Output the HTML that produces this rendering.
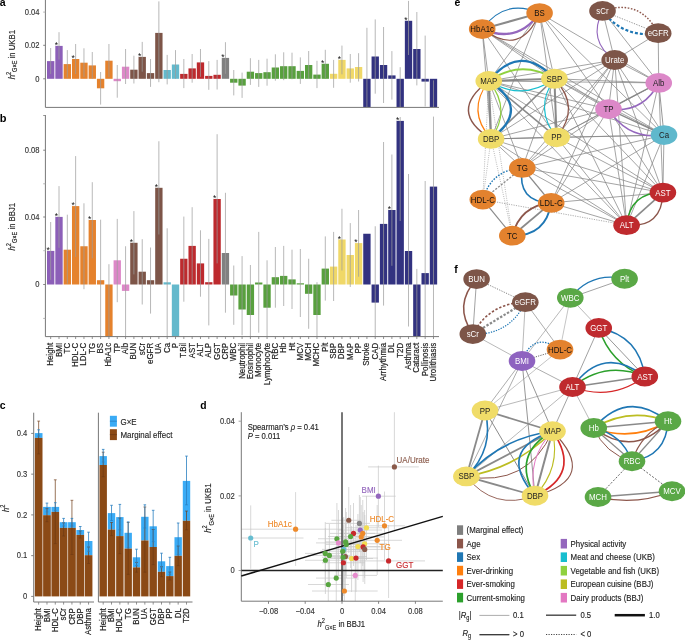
<!DOCTYPE html>
<html><head><meta charset="utf-8"><style>
html,body{margin:0;padding:0;background:#fff;}
body{width:685px;height:640px;overflow:hidden;font-family:"Liberation Sans", sans-serif;}
svg{display:block;will-change:transform;}
</style></head><body>
<svg width="685" height="640" viewBox="0 0 685 640">
<rect x="0" y="0" width="685" height="640" fill="#fff"/>
<g font-family='"Liberation Sans", sans-serif'>
<text x="-0.30" y="5.60" font-size="10.5" text-anchor="start" fill="#000" font-weight="bold" font-style="normal" >a</text>
<rect x="47.00" y="61.10" width="7.35" height="17.70" fill="#8c5fb8"/>
<rect x="55.32" y="45.90" width="7.35" height="32.90" fill="#8c5fb8"/>
<rect x="63.64" y="64.10" width="7.35" height="14.70" fill="#e5822d"/>
<rect x="71.97" y="59.00" width="7.35" height="19.80" fill="#e5822d"/>
<rect x="80.29" y="62.70" width="7.35" height="16.10" fill="#e5822d"/>
<rect x="88.61" y="65.40" width="7.35" height="13.40" fill="#e5822d"/>
<rect x="96.93" y="78.80" width="7.35" height="9.50" fill="#e5822d"/>
<rect x="105.25" y="60.70" width="7.35" height="18.10" fill="#e5822d"/>
<rect x="113.58" y="78.80" width="7.35" height="2.40" fill="#dd88c8"/>
<rect x="121.90" y="66.70" width="7.35" height="12.10" fill="#dd88c8"/>
<rect x="130.22" y="69.70" width="7.35" height="9.10" fill="#7d5548"/>
<rect x="138.54" y="56.90" width="7.35" height="21.90" fill="#7d5548"/>
<rect x="146.86" y="73.10" width="7.35" height="5.70" fill="#7d5548"/>
<rect x="155.19" y="32.90" width="7.35" height="45.90" fill="#7d5548"/>
<rect x="163.51" y="70.00" width="7.35" height="8.80" fill="#64b9cc"/>
<rect x="171.83" y="64.50" width="7.35" height="14.30" fill="#64b9cc"/>
<rect x="180.15" y="73.90" width="7.35" height="4.90" fill="#bd2a2e"/>
<rect x="188.47" y="68.40" width="7.35" height="10.40" fill="#bd2a2e"/>
<rect x="196.80" y="62.40" width="7.35" height="16.40" fill="#bd2a2e"/>
<rect x="205.12" y="75.90" width="7.35" height="2.90" fill="#bd2a2e"/>
<rect x="213.44" y="74.80" width="7.35" height="4.00" fill="#bd2a2e"/>
<rect x="221.76" y="57.90" width="7.35" height="20.90" fill="#808080"/>
<rect x="230.08" y="78.80" width="7.35" height="3.90" fill="#58a03e"/>
<rect x="238.41" y="78.80" width="7.35" height="6.80" fill="#58a03e"/>
<rect x="246.73" y="71.70" width="7.35" height="7.10" fill="#58a03e"/>
<rect x="255.05" y="73.10" width="7.35" height="5.70" fill="#58a03e"/>
<rect x="263.37" y="72.20" width="7.35" height="6.60" fill="#58a03e"/>
<rect x="271.69" y="67.50" width="7.35" height="11.30" fill="#58a03e"/>
<rect x="280.02" y="66.20" width="7.35" height="12.60" fill="#58a03e"/>
<rect x="288.34" y="66.20" width="7.35" height="12.60" fill="#58a03e"/>
<rect x="296.66" y="70.90" width="7.35" height="7.90" fill="#58a03e"/>
<rect x="304.98" y="65.00" width="7.35" height="13.80" fill="#58a03e"/>
<rect x="313.30" y="74.60" width="7.35" height="4.20" fill="#58a03e"/>
<rect x="321.63" y="63.80" width="7.35" height="15.00" fill="#58a03e"/>
<rect x="329.95" y="73.80" width="7.35" height="5.00" fill="#f0d868"/>
<rect x="338.27" y="59.90" width="7.35" height="18.90" fill="#f0d868"/>
<rect x="346.59" y="68.40" width="7.35" height="10.40" fill="#f0d868"/>
<rect x="354.91" y="67.00" width="7.35" height="11.80" fill="#f0d868"/>
<rect x="363.24" y="78.80" width="7.35" height="28.20" fill="#323280"/>
<rect x="371.56" y="56.50" width="7.35" height="22.30" fill="#323280"/>
<rect x="379.88" y="65.00" width="7.35" height="13.80" fill="#323280"/>
<rect x="388.20" y="75.40" width="7.35" height="3.40" fill="#323280"/>
<rect x="396.52" y="78.80" width="7.35" height="28.20" fill="#323280"/>
<rect x="404.85" y="20.80" width="7.35" height="58.00" fill="#323280"/>
<rect x="413.17" y="49.00" width="7.35" height="29.80" fill="#323280"/>
<rect x="421.49" y="78.80" width="7.35" height="2.80" fill="#323280"/>
<rect x="429.81" y="78.80" width="7.35" height="28.20" fill="#323280"/>
<line x1="50.67" y1="48.00" x2="50.67" y2="74.10" stroke="#9c9c9c" stroke-width="0.9" stroke-opacity="0.8"/>
<line x1="59.00" y1="32.20" x2="59.00" y2="59.60" stroke="#9c9c9c" stroke-width="0.9" stroke-opacity="0.8"/>
<line x1="67.32" y1="50.10" x2="67.32" y2="77.60" stroke="#9c9c9c" stroke-width="0.9" stroke-opacity="0.8"/>
<line x1="75.64" y1="44.00" x2="75.64" y2="74.10" stroke="#9c9c9c" stroke-width="0.9" stroke-opacity="0.8"/>
<line x1="83.96" y1="48.30" x2="83.96" y2="77.00" stroke="#9c9c9c" stroke-width="0.9" stroke-opacity="0.8"/>
<line x1="92.28" y1="52.00" x2="92.28" y2="78.80" stroke="#9c9c9c" stroke-width="0.9" stroke-opacity="0.8"/>
<line x1="100.61" y1="72.00" x2="100.61" y2="104.60" stroke="#9c9c9c" stroke-width="0.9" stroke-opacity="0.8"/>
<line x1="108.93" y1="44.00" x2="108.93" y2="77.00" stroke="#9c9c9c" stroke-width="0.9" stroke-opacity="0.8"/>
<line x1="117.25" y1="65.00" x2="117.25" y2="97.70" stroke="#9c9c9c" stroke-width="0.9" stroke-opacity="0.8"/>
<line x1="125.57" y1="49.00" x2="125.57" y2="84.00" stroke="#9c9c9c" stroke-width="0.9" stroke-opacity="0.8"/>
<line x1="133.90" y1="55.70" x2="133.90" y2="83.50" stroke="#9c9c9c" stroke-width="0.9" stroke-opacity="0.8"/>
<line x1="142.22" y1="41.90" x2="142.22" y2="71.70" stroke="#9c9c9c" stroke-width="0.9" stroke-opacity="0.8"/>
<line x1="150.54" y1="59.00" x2="150.54" y2="86.90" stroke="#9c9c9c" stroke-width="0.9" stroke-opacity="0.8"/>
<line x1="158.86" y1="1.40" x2="158.86" y2="82.20" stroke="#9c9c9c" stroke-width="0.9" stroke-opacity="0.8"/>
<line x1="167.18" y1="54.90" x2="167.18" y2="84.40" stroke="#9c9c9c" stroke-width="0.9" stroke-opacity="0.8"/>
<line x1="175.50" y1="50.10" x2="175.50" y2="78.80" stroke="#9c9c9c" stroke-width="0.9" stroke-opacity="0.8"/>
<line x1="183.83" y1="59.00" x2="183.83" y2="88.10" stroke="#9c9c9c" stroke-width="0.9" stroke-opacity="0.8"/>
<line x1="192.15" y1="54.00" x2="192.15" y2="82.70" stroke="#9c9c9c" stroke-width="0.9" stroke-opacity="0.8"/>
<line x1="200.47" y1="49.00" x2="200.47" y2="76.80" stroke="#9c9c9c" stroke-width="0.9" stroke-opacity="0.8"/>
<line x1="208.79" y1="61.10" x2="208.79" y2="89.80" stroke="#9c9c9c" stroke-width="0.9" stroke-opacity="0.8"/>
<line x1="217.12" y1="59.90" x2="217.12" y2="89.50" stroke="#9c9c9c" stroke-width="0.9" stroke-opacity="0.8"/>
<line x1="225.44" y1="42.20" x2="225.44" y2="73.80" stroke="#9c9c9c" stroke-width="0.9" stroke-opacity="0.8"/>
<line x1="233.76" y1="70.00" x2="233.76" y2="95.40" stroke="#9c9c9c" stroke-width="0.9" stroke-opacity="0.8"/>
<line x1="242.08" y1="72.60" x2="242.08" y2="97.90" stroke="#9c9c9c" stroke-width="0.9" stroke-opacity="0.8"/>
<line x1="250.40" y1="58.20" x2="250.40" y2="84.90" stroke="#9c9c9c" stroke-width="0.9" stroke-opacity="0.8"/>
<line x1="258.72" y1="59.90" x2="258.72" y2="86.90" stroke="#9c9c9c" stroke-width="0.9" stroke-opacity="0.8"/>
<line x1="267.05" y1="58.70" x2="267.05" y2="85.70" stroke="#9c9c9c" stroke-width="0.9" stroke-opacity="0.8"/>
<line x1="275.37" y1="54.30" x2="275.37" y2="80.70" stroke="#9c9c9c" stroke-width="0.9" stroke-opacity="0.8"/>
<line x1="283.69" y1="52.30" x2="283.69" y2="80.20" stroke="#9c9c9c" stroke-width="0.9" stroke-opacity="0.8"/>
<line x1="292.01" y1="52.70" x2="292.01" y2="79.30" stroke="#9c9c9c" stroke-width="0.9" stroke-opacity="0.8"/>
<line x1="300.33" y1="57.40" x2="300.33" y2="83.90" stroke="#9c9c9c" stroke-width="0.9" stroke-opacity="0.8"/>
<line x1="308.66" y1="51.00" x2="308.66" y2="79.00" stroke="#9c9c9c" stroke-width="0.9" stroke-opacity="0.8"/>
<line x1="316.98" y1="60.80" x2="316.98" y2="88.10" stroke="#9c9c9c" stroke-width="0.9" stroke-opacity="0.8"/>
<line x1="325.30" y1="49.80" x2="325.30" y2="78.00" stroke="#9c9c9c" stroke-width="0.9" stroke-opacity="0.8"/>
<line x1="333.62" y1="59.90" x2="333.62" y2="87.80" stroke="#9c9c9c" stroke-width="0.9" stroke-opacity="0.8"/>
<line x1="341.94" y1="45.60" x2="341.94" y2="74.30" stroke="#9c9c9c" stroke-width="0.9" stroke-opacity="0.8"/>
<line x1="350.27" y1="54.00" x2="350.27" y2="82.70" stroke="#9c9c9c" stroke-width="0.9" stroke-opacity="0.8"/>
<line x1="358.59" y1="53.20" x2="358.59" y2="81.50" stroke="#9c9c9c" stroke-width="0.9" stroke-opacity="0.8"/>
<line x1="366.91" y1="27.80" x2="366.91" y2="107.00" stroke="#9c9c9c" stroke-width="0.9" stroke-opacity="0.8"/>
<line x1="375.23" y1="19.40" x2="375.23" y2="93.70" stroke="#9c9c9c" stroke-width="0.9" stroke-opacity="0.8"/>
<line x1="383.56" y1="27.00" x2="383.56" y2="103.00" stroke="#9c9c9c" stroke-width="0.9" stroke-opacity="0.8"/>
<line x1="391.88" y1="51.10" x2="391.88" y2="99.60" stroke="#9c9c9c" stroke-width="0.9" stroke-opacity="0.8"/>
<line x1="400.20" y1="67.20" x2="400.20" y2="107.00" stroke="#9c9c9c" stroke-width="0.9" stroke-opacity="0.8"/>
<line x1="408.52" y1="0.90" x2="408.52" y2="55.00" stroke="#9c9c9c" stroke-width="0.9" stroke-opacity="0.8"/>
<line x1="416.84" y1="12.00" x2="416.84" y2="85.40" stroke="#9c9c9c" stroke-width="0.9" stroke-opacity="0.8"/>
<line x1="425.16" y1="35.60" x2="425.16" y2="106.50" stroke="#9c9c9c" stroke-width="0.9" stroke-opacity="0.8"/>
<line x1="433.49" y1="80.40" x2="433.49" y2="107.00" stroke="#9c9c9c" stroke-width="0.9" stroke-opacity="0.8"/>
<text x="56.42" y="48.20" font-size="8.5" text-anchor="middle" fill="#111">*</text>
<text x="73.07" y="61.30" font-size="8.5" text-anchor="middle" fill="#111">*</text>
<text x="139.64" y="59.20" font-size="8.5" text-anchor="middle" fill="#111">*</text>
<text x="222.86" y="60.20" font-size="8.5" text-anchor="middle" fill="#111">*</text>
<text x="322.73" y="66.10" font-size="8.5" text-anchor="middle" fill="#111">*</text>
<text x="339.37" y="62.20" font-size="8.5" text-anchor="middle" fill="#111">*</text>
<text x="405.95" y="23.10" font-size="8.5" text-anchor="middle" fill="#111">*</text>
<line x1="45.40" y1="0.00" x2="45.40" y2="107.40" stroke="#777" stroke-width="1" />
<line x1="45.40" y1="107.40" x2="439.00" y2="107.40" stroke="#777" stroke-width="1" />
<line x1="43.20" y1="12.10" x2="45.40" y2="12.10" stroke="#aaa" stroke-width="0.9" />
<text transform="translate(39.50,14.80) scale(0.8696,1)" font-size="8.74" text-anchor="end" fill="#333" stroke="#333" stroke-width="0.14" font-weight="normal">0.04</text>
<line x1="43.20" y1="45.30" x2="45.40" y2="45.30" stroke="#777" stroke-width="0.9" />
<text transform="translate(39.50,48.00) scale(0.8696,1)" font-size="8.74" text-anchor="end" fill="#333" stroke="#333" stroke-width="0.14" font-weight="normal">0.02</text>
<line x1="43.20" y1="78.80" x2="45.40" y2="78.80" stroke="#777" stroke-width="0.9" />
<text transform="translate(39.50,81.50) scale(0.8696,1)" font-size="8.74" text-anchor="end" fill="#333" stroke="#333" stroke-width="0.14" font-weight="normal">0</text>
<text transform="translate(14.50,79.30) rotate(-90) scale(0.8696,1)" font-size="8.91" text-anchor="start" fill="#222" stroke="#222" stroke-width="0.14" font-weight="normal"><tspan font-style="italic">h</tspan><tspan font-size="6.44" dy="-3.91">2</tspan><tspan font-size="6.44" dy="6.79">G×E</tspan><tspan dy="-2.88"> in UKB1</tspan></text>
<text x="-0.20" y="121.80" font-size="11" text-anchor="start" fill="#000" font-weight="bold" font-style="normal" >b</text>
<rect x="47.00" y="250.90" width="7.35" height="33.60" fill="#8c5fb8"/>
<rect x="55.32" y="216.90" width="7.35" height="67.60" fill="#8c5fb8"/>
<rect x="63.64" y="249.70" width="7.35" height="34.80" fill="#e5822d"/>
<rect x="71.97" y="206.10" width="7.35" height="78.40" fill="#e5822d"/>
<rect x="80.29" y="246.25" width="7.35" height="38.25" fill="#e5822d"/>
<rect x="88.61" y="220.00" width="7.35" height="64.50" fill="#e5822d"/>
<rect x="96.93" y="280.20" width="7.35" height="4.30" fill="#e5822d"/>
<rect x="105.25" y="284.50" width="7.35" height="52.00" fill="#e5822d"/>
<rect x="113.58" y="260.30" width="7.35" height="24.20" fill="#dd88c8"/>
<rect x="121.90" y="284.50" width="7.35" height="6.40" fill="#dd88c8"/>
<rect x="130.22" y="242.80" width="7.35" height="41.70" fill="#7d5548"/>
<rect x="138.54" y="271.70" width="7.35" height="12.80" fill="#7d5548"/>
<rect x="146.86" y="280.20" width="7.35" height="4.30" fill="#7d5548"/>
<rect x="155.19" y="187.80" width="7.35" height="96.70" fill="#7d5548"/>
<rect x="163.51" y="282.30" width="7.35" height="2.20" fill="#64b9cc"/>
<rect x="171.83" y="284.50" width="7.35" height="52.00" fill="#64b9cc"/>
<rect x="180.15" y="258.75" width="7.35" height="25.75" fill="#bd2a2e"/>
<rect x="188.47" y="245.90" width="7.35" height="38.60" fill="#bd2a2e"/>
<rect x="196.80" y="263.40" width="7.35" height="21.10" fill="#bd2a2e"/>
<rect x="205.12" y="282.20" width="7.35" height="2.30" fill="#bd2a2e"/>
<rect x="213.44" y="199.00" width="7.35" height="85.50" fill="#bd2a2e"/>
<rect x="221.76" y="253.00" width="7.35" height="31.50" fill="#808080"/>
<rect x="230.08" y="284.50" width="7.35" height="11.00" fill="#58a03e"/>
<rect x="238.41" y="284.50" width="7.35" height="25.00" fill="#58a03e"/>
<rect x="246.73" y="284.50" width="7.35" height="30.50" fill="#58a03e"/>
<rect x="255.05" y="282.50" width="7.35" height="2.00" fill="#58a03e"/>
<rect x="263.37" y="284.50" width="7.35" height="23.20" fill="#58a03e"/>
<rect x="271.69" y="277.20" width="7.35" height="7.30" fill="#58a03e"/>
<rect x="280.02" y="275.90" width="7.35" height="8.60" fill="#58a03e"/>
<rect x="288.34" y="279.40" width="7.35" height="5.10" fill="#58a03e"/>
<rect x="296.66" y="283.30" width="7.35" height="1.20" fill="#58a03e"/>
<rect x="304.98" y="284.50" width="7.35" height="9.30" fill="#58a03e"/>
<rect x="313.30" y="284.50" width="7.35" height="30.50" fill="#58a03e"/>
<rect x="321.63" y="268.60" width="7.35" height="15.90" fill="#58a03e"/>
<rect x="329.95" y="266.60" width="7.35" height="17.90" fill="#f0d868"/>
<rect x="338.27" y="239.50" width="7.35" height="45.00" fill="#f0d868"/>
<rect x="346.59" y="255.00" width="7.35" height="29.50" fill="#f0d868"/>
<rect x="354.91" y="243.10" width="7.35" height="41.40" fill="#f0d868"/>
<rect x="363.24" y="233.75" width="7.35" height="50.75" fill="#323280"/>
<rect x="371.56" y="284.50" width="7.35" height="18.10" fill="#323280"/>
<rect x="379.88" y="223.90" width="7.35" height="60.60" fill="#323280"/>
<rect x="388.20" y="210.00" width="7.35" height="74.50" fill="#323280"/>
<rect x="396.52" y="120.90" width="7.35" height="163.60" fill="#323280"/>
<rect x="404.85" y="251.00" width="7.35" height="33.50" fill="#323280"/>
<rect x="413.17" y="284.50" width="7.35" height="52.00" fill="#323280"/>
<rect x="421.49" y="273.10" width="7.35" height="11.40" fill="#323280"/>
<rect x="429.81" y="186.60" width="7.35" height="97.90" fill="#323280"/>
<line x1="50.67" y1="222.00" x2="50.67" y2="279.80" stroke="#9c9c9c" stroke-width="0.9" stroke-opacity="0.8"/>
<line x1="59.00" y1="186.10" x2="59.00" y2="247.80" stroke="#9c9c9c" stroke-width="0.9" stroke-opacity="0.8"/>
<line x1="67.32" y1="214.70" x2="67.32" y2="283.75" stroke="#9c9c9c" stroke-width="0.9" stroke-opacity="0.8"/>
<line x1="75.64" y1="156.10" x2="75.64" y2="256.90" stroke="#9c9c9c" stroke-width="0.9" stroke-opacity="0.8"/>
<line x1="83.96" y1="203.30" x2="83.96" y2="289.20" stroke="#9c9c9c" stroke-width="0.9" stroke-opacity="0.8"/>
<line x1="92.28" y1="182.20" x2="92.28" y2="258.40" stroke="#9c9c9c" stroke-width="0.9" stroke-opacity="0.8"/>
<line x1="100.61" y1="219.70" x2="100.61" y2="336.50" stroke="#9c9c9c" stroke-width="0.9" stroke-opacity="0.8"/>
<line x1="108.93" y1="264.20" x2="108.93" y2="336.50" stroke="#9c9c9c" stroke-width="0.9" stroke-opacity="0.8"/>
<line x1="117.25" y1="218.90" x2="117.25" y2="302.20" stroke="#9c9c9c" stroke-width="0.9" stroke-opacity="0.8"/>
<line x1="125.57" y1="246.25" x2="125.57" y2="336.50" stroke="#9c9c9c" stroke-width="0.9" stroke-opacity="0.8"/>
<line x1="133.90" y1="211.10" x2="133.90" y2="274.40" stroke="#9c9c9c" stroke-width="0.9" stroke-opacity="0.8"/>
<line x1="142.22" y1="239.20" x2="142.22" y2="304.50" stroke="#9c9c9c" stroke-width="0.9" stroke-opacity="0.8"/>
<line x1="150.54" y1="247.50" x2="150.54" y2="313.60" stroke="#9c9c9c" stroke-width="0.9" stroke-opacity="0.8"/>
<line x1="158.86" y1="141.25" x2="158.86" y2="234.50" stroke="#9c9c9c" stroke-width="0.9" stroke-opacity="0.8"/>
<line x1="167.18" y1="228.30" x2="167.18" y2="336.50" stroke="#9c9c9c" stroke-width="0.9" stroke-opacity="0.8"/>
<line x1="183.83" y1="216.60" x2="183.83" y2="301.70" stroke="#9c9c9c" stroke-width="0.9" stroke-opacity="0.8"/>
<line x1="192.15" y1="207.20" x2="192.15" y2="284.00" stroke="#9c9c9c" stroke-width="0.9" stroke-opacity="0.8"/>
<line x1="200.47" y1="230.30" x2="200.47" y2="296.70" stroke="#9c9c9c" stroke-width="0.9" stroke-opacity="0.8"/>
<line x1="208.79" y1="238.90" x2="208.79" y2="325.40" stroke="#9c9c9c" stroke-width="0.9" stroke-opacity="0.8"/>
<line x1="217.12" y1="134.20" x2="217.12" y2="263.40" stroke="#9c9c9c" stroke-width="0.9" stroke-opacity="0.8"/>
<line x1="225.44" y1="192.80" x2="225.44" y2="312.70" stroke="#9c9c9c" stroke-width="0.9" stroke-opacity="0.8"/>
<line x1="233.76" y1="265.50" x2="233.76" y2="324.80" stroke="#9c9c9c" stroke-width="0.9" stroke-opacity="0.8"/>
<line x1="242.08" y1="256.10" x2="242.08" y2="335.30" stroke="#9c9c9c" stroke-width="0.9" stroke-opacity="0.8"/>
<line x1="250.40" y1="265.00" x2="250.40" y2="336.50" stroke="#9c9c9c" stroke-width="0.9" stroke-opacity="0.8"/>
<line x1="258.72" y1="231.90" x2="258.72" y2="332.70" stroke="#9c9c9c" stroke-width="0.9" stroke-opacity="0.8"/>
<line x1="267.05" y1="260.30" x2="267.05" y2="336.50" stroke="#9c9c9c" stroke-width="0.9" stroke-opacity="0.8"/>
<line x1="275.37" y1="247.00" x2="275.37" y2="307.70" stroke="#9c9c9c" stroke-width="0.9" stroke-opacity="0.8"/>
<line x1="283.69" y1="245.90" x2="283.69" y2="306.00" stroke="#9c9c9c" stroke-width="0.9" stroke-opacity="0.8"/>
<line x1="292.01" y1="249.70" x2="292.01" y2="309.00" stroke="#9c9c9c" stroke-width="0.9" stroke-opacity="0.8"/>
<line x1="300.33" y1="249.00" x2="300.33" y2="317.00" stroke="#9c9c9c" stroke-width="0.9" stroke-opacity="0.8"/>
<line x1="308.66" y1="258.75" x2="308.66" y2="328.80" stroke="#9c9c9c" stroke-width="0.9" stroke-opacity="0.8"/>
<line x1="316.98" y1="282.20" x2="316.98" y2="336.50" stroke="#9c9c9c" stroke-width="0.9" stroke-opacity="0.8"/>
<line x1="325.30" y1="236.40" x2="325.30" y2="300.60" stroke="#9c9c9c" stroke-width="0.9" stroke-opacity="0.8"/>
<line x1="333.62" y1="231.90" x2="333.62" y2="301.00" stroke="#9c9c9c" stroke-width="0.9" stroke-opacity="0.8"/>
<line x1="341.94" y1="208.75" x2="341.94" y2="270.50" stroke="#9c9c9c" stroke-width="0.9" stroke-opacity="0.8"/>
<line x1="350.27" y1="223.10" x2="350.27" y2="287.00" stroke="#9c9c9c" stroke-width="0.9" stroke-opacity="0.8"/>
<line x1="358.59" y1="210.00" x2="358.59" y2="276.70" stroke="#9c9c9c" stroke-width="0.9" stroke-opacity="0.8"/>
<line x1="375.23" y1="226.25" x2="375.23" y2="336.50" stroke="#9c9c9c" stroke-width="0.9" stroke-opacity="0.8"/>
<line x1="383.56" y1="142.00" x2="383.56" y2="305.60" stroke="#9c9c9c" stroke-width="0.9" stroke-opacity="0.8"/>
<line x1="391.88" y1="154.50" x2="391.88" y2="265.80" stroke="#9c9c9c" stroke-width="0.9" stroke-opacity="0.8"/>
<line x1="400.20" y1="117.00" x2="400.20" y2="221.00" stroke="#9c9c9c" stroke-width="0.9" stroke-opacity="0.8"/>
<line x1="408.52" y1="174.00" x2="408.52" y2="326.50" stroke="#9c9c9c" stroke-width="0.9" stroke-opacity="0.8"/>
<line x1="416.84" y1="268.90" x2="416.84" y2="336.50" stroke="#9c9c9c" stroke-width="0.9" stroke-opacity="0.8"/>
<line x1="425.16" y1="181.00" x2="425.16" y2="336.50" stroke="#9c9c9c" stroke-width="0.9" stroke-opacity="0.8"/>
<line x1="433.49" y1="116.60" x2="433.49" y2="336.50" stroke="#9c9c9c" stroke-width="0.9" stroke-opacity="0.8"/>
<text x="48.10" y="253.20" font-size="8.5" text-anchor="middle" fill="#111">*</text>
<text x="56.42" y="219.20" font-size="8.5" text-anchor="middle" fill="#111">*</text>
<text x="73.07" y="208.40" font-size="8.5" text-anchor="middle" fill="#111">*</text>
<text x="89.71" y="222.30" font-size="8.5" text-anchor="middle" fill="#111">*</text>
<text x="131.32" y="245.10" font-size="8.5" text-anchor="middle" fill="#111">*</text>
<text x="156.29" y="190.10" font-size="8.5" text-anchor="middle" fill="#111">*</text>
<text x="214.54" y="201.30" font-size="8.5" text-anchor="middle" fill="#111">*</text>
<text x="339.37" y="241.80" font-size="8.5" text-anchor="middle" fill="#111">*</text>
<text x="356.01" y="245.40" font-size="8.5" text-anchor="middle" fill="#111">*</text>
<text x="389.30" y="212.30" font-size="8.5" text-anchor="middle" fill="#111">*</text>
<text x="397.62" y="123.20" font-size="8.5" text-anchor="middle" fill="#111">*</text>
<line x1="45.40" y1="115.00" x2="45.40" y2="336.60" stroke="#777" stroke-width="1" />
<line x1="45.40" y1="336.60" x2="439.00" y2="336.60" stroke="#777" stroke-width="1" />
<line x1="43.20" y1="115.50" x2="45.40" y2="115.50" stroke="#888" stroke-width="0.9" />
<line x1="43.20" y1="150.20" x2="45.40" y2="150.20" stroke="#777" stroke-width="0.9" />
<text transform="translate(39.50,152.90) scale(0.8696,1)" font-size="8.74" text-anchor="end" fill="#333" stroke="#333" stroke-width="0.14" font-weight="normal">0.08</text>
<line x1="43.20" y1="183.80" x2="45.40" y2="183.80" stroke="#aaa" stroke-width="0.9" />
<line x1="43.20" y1="217.00" x2="45.40" y2="217.00" stroke="#777" stroke-width="0.9" />
<text transform="translate(39.50,219.70) scale(0.8696,1)" font-size="8.74" text-anchor="end" fill="#333" stroke="#333" stroke-width="0.14" font-weight="normal">0.04</text>
<line x1="43.20" y1="250.70" x2="45.40" y2="250.70" stroke="#bbb" stroke-width="0.9" />
<line x1="43.20" y1="284.50" x2="45.40" y2="284.50" stroke="#777" stroke-width="0.9" />
<text transform="translate(39.50,287.20) scale(0.8696,1)" font-size="8.74" text-anchor="end" fill="#333" stroke="#333" stroke-width="0.14" font-weight="normal">0</text>
<line x1="43.20" y1="318.40" x2="45.40" y2="318.40" stroke="#aaa" stroke-width="0.9" />
<line x1="50.67" y1="336.60" x2="50.67" y2="339.00" stroke="#777" stroke-width="0.8" />
<text transform="translate(53.17,342.90) rotate(-90) scale(0.8696,1)" font-size="9.08" text-anchor="end" fill="#222" stroke="#222" stroke-width="0.2" font-weight="normal">Height</text>
<line x1="59.00" y1="336.60" x2="59.00" y2="339.00" stroke="#777" stroke-width="0.8" />
<text transform="translate(61.50,342.90) rotate(-90) scale(0.8696,1)" font-size="9.08" text-anchor="end" fill="#222" stroke="#222" stroke-width="0.2" font-weight="normal">BMI</text>
<line x1="67.32" y1="336.60" x2="67.32" y2="339.00" stroke="#777" stroke-width="0.8" />
<text transform="translate(69.82,342.90) rotate(-90) scale(0.8696,1)" font-size="9.08" text-anchor="end" fill="#222" stroke="#222" stroke-width="0.2" font-weight="normal">TC</text>
<line x1="75.64" y1="336.60" x2="75.64" y2="339.00" stroke="#777" stroke-width="0.8" />
<text transform="translate(78.14,342.90) rotate(-90) scale(0.8696,1)" font-size="9.08" text-anchor="end" fill="#222" stroke="#222" stroke-width="0.2" font-weight="normal">HDL-C</text>
<line x1="83.96" y1="336.60" x2="83.96" y2="339.00" stroke="#777" stroke-width="0.8" />
<text transform="translate(86.46,342.90) rotate(-90) scale(0.8696,1)" font-size="9.08" text-anchor="end" fill="#222" stroke="#222" stroke-width="0.2" font-weight="normal">LDL-C</text>
<line x1="92.28" y1="336.60" x2="92.28" y2="339.00" stroke="#777" stroke-width="0.8" />
<text transform="translate(94.78,342.90) rotate(-90) scale(0.8696,1)" font-size="9.08" text-anchor="end" fill="#222" stroke="#222" stroke-width="0.2" font-weight="normal">TG</text>
<line x1="100.61" y1="336.60" x2="100.61" y2="339.00" stroke="#777" stroke-width="0.8" />
<text transform="translate(103.11,342.90) rotate(-90) scale(0.8696,1)" font-size="9.08" text-anchor="end" fill="#222" stroke="#222" stroke-width="0.2" font-weight="normal">BS</text>
<line x1="108.93" y1="336.60" x2="108.93" y2="339.00" stroke="#777" stroke-width="0.8" />
<text transform="translate(111.43,342.90) rotate(-90) scale(0.8696,1)" font-size="9.08" text-anchor="end" fill="#222" stroke="#222" stroke-width="0.2" font-weight="normal">HbA1c</text>
<line x1="117.25" y1="336.60" x2="117.25" y2="339.00" stroke="#777" stroke-width="0.8" />
<text transform="translate(119.75,342.90) rotate(-90) scale(0.8696,1)" font-size="9.08" text-anchor="end" fill="#222" stroke="#222" stroke-width="0.2" font-weight="normal">TP</text>
<line x1="125.57" y1="336.60" x2="125.57" y2="339.00" stroke="#777" stroke-width="0.8" />
<text transform="translate(128.07,342.90) rotate(-90) scale(0.8696,1)" font-size="9.08" text-anchor="end" fill="#222" stroke="#222" stroke-width="0.2" font-weight="normal">Alb</text>
<line x1="133.90" y1="336.60" x2="133.90" y2="339.00" stroke="#777" stroke-width="0.8" />
<text transform="translate(136.40,342.90) rotate(-90) scale(0.8696,1)" font-size="9.08" text-anchor="end" fill="#222" stroke="#222" stroke-width="0.2" font-weight="normal">BUN</text>
<line x1="142.22" y1="336.60" x2="142.22" y2="339.00" stroke="#777" stroke-width="0.8" />
<text transform="translate(144.72,342.90) rotate(-90) scale(0.8696,1)" font-size="9.08" text-anchor="end" fill="#222" stroke="#222" stroke-width="0.2" font-weight="normal">sCr</text>
<line x1="150.54" y1="336.60" x2="150.54" y2="339.00" stroke="#777" stroke-width="0.8" />
<text transform="translate(153.04,342.90) rotate(-90) scale(0.8696,1)" font-size="9.08" text-anchor="end" fill="#222" stroke="#222" stroke-width="0.2" font-weight="normal">eGFR</text>
<line x1="158.86" y1="336.60" x2="158.86" y2="339.00" stroke="#777" stroke-width="0.8" />
<text transform="translate(161.36,342.90) rotate(-90) scale(0.8696,1)" font-size="9.08" text-anchor="end" fill="#222" stroke="#222" stroke-width="0.2" font-weight="normal">UA</text>
<line x1="167.18" y1="336.60" x2="167.18" y2="339.00" stroke="#777" stroke-width="0.8" />
<text transform="translate(169.68,342.90) rotate(-90) scale(0.8696,1)" font-size="9.08" text-anchor="end" fill="#222" stroke="#222" stroke-width="0.2" font-weight="normal">Ca</text>
<line x1="175.50" y1="336.60" x2="175.50" y2="339.00" stroke="#777" stroke-width="0.8" />
<text transform="translate(178.00,342.90) rotate(-90) scale(0.8696,1)" font-size="9.08" text-anchor="end" fill="#222" stroke="#222" stroke-width="0.2" font-weight="normal">P</text>
<line x1="183.83" y1="336.60" x2="183.83" y2="339.00" stroke="#777" stroke-width="0.8" />
<text transform="translate(186.33,342.90) rotate(-90) scale(0.8696,1)" font-size="9.08" text-anchor="end" fill="#222" stroke="#222" stroke-width="0.2" font-weight="normal">T.Bil</text>
<line x1="192.15" y1="336.60" x2="192.15" y2="339.00" stroke="#777" stroke-width="0.8" />
<text transform="translate(194.65,342.90) rotate(-90) scale(0.8696,1)" font-size="9.08" text-anchor="end" fill="#222" stroke="#222" stroke-width="0.2" font-weight="normal">AST</text>
<line x1="200.47" y1="336.60" x2="200.47" y2="339.00" stroke="#777" stroke-width="0.8" />
<text transform="translate(202.97,342.90) rotate(-90) scale(0.8696,1)" font-size="9.08" text-anchor="end" fill="#222" stroke="#222" stroke-width="0.2" font-weight="normal">ALT</text>
<line x1="208.79" y1="336.60" x2="208.79" y2="339.00" stroke="#777" stroke-width="0.8" />
<text transform="translate(211.29,342.90) rotate(-90) scale(0.8696,1)" font-size="9.08" text-anchor="end" fill="#222" stroke="#222" stroke-width="0.2" font-weight="normal">ALP</text>
<line x1="217.12" y1="336.60" x2="217.12" y2="339.00" stroke="#777" stroke-width="0.8" />
<text transform="translate(219.62,342.90) rotate(-90) scale(0.8696,1)" font-size="9.08" text-anchor="end" fill="#222" stroke="#222" stroke-width="0.2" font-weight="normal">GGT</text>
<line x1="225.44" y1="336.60" x2="225.44" y2="339.00" stroke="#777" stroke-width="0.8" />
<text transform="translate(227.94,342.90) rotate(-90) scale(0.8696,1)" font-size="9.08" text-anchor="end" fill="#222" stroke="#222" stroke-width="0.2" font-weight="normal">CRP</text>
<line x1="233.76" y1="336.60" x2="233.76" y2="339.00" stroke="#777" stroke-width="0.8" />
<text transform="translate(236.26,342.90) rotate(-90) scale(0.8696,1)" font-size="9.08" text-anchor="end" fill="#222" stroke="#222" stroke-width="0.2" font-weight="normal">WBC</text>
<line x1="242.08" y1="336.60" x2="242.08" y2="339.00" stroke="#777" stroke-width="0.8" />
<text transform="translate(244.58,342.90) rotate(-90) scale(0.8696,1)" font-size="9.08" text-anchor="end" fill="#222" stroke="#222" stroke-width="0.2" font-weight="normal">Neutrophil</text>
<line x1="250.40" y1="336.60" x2="250.40" y2="339.00" stroke="#777" stroke-width="0.8" />
<text transform="translate(252.90,342.90) rotate(-90) scale(0.8696,1)" font-size="9.08" text-anchor="end" fill="#222" stroke="#222" stroke-width="0.2" font-weight="normal">Eosinophil</text>
<line x1="258.72" y1="336.60" x2="258.72" y2="339.00" stroke="#777" stroke-width="0.8" />
<text transform="translate(261.22,342.90) rotate(-90) scale(0.8696,1)" font-size="9.08" text-anchor="end" fill="#222" stroke="#222" stroke-width="0.2" font-weight="normal">Monocyte</text>
<line x1="267.05" y1="336.60" x2="267.05" y2="339.00" stroke="#777" stroke-width="0.8" />
<text transform="translate(269.55,342.90) rotate(-90) scale(0.8696,1)" font-size="9.08" text-anchor="end" fill="#222" stroke="#222" stroke-width="0.2" font-weight="normal">Lymphocyte</text>
<line x1="275.37" y1="336.60" x2="275.37" y2="339.00" stroke="#777" stroke-width="0.8" />
<text transform="translate(277.87,342.90) rotate(-90) scale(0.8696,1)" font-size="9.08" text-anchor="end" fill="#222" stroke="#222" stroke-width="0.2" font-weight="normal">RBC</text>
<line x1="283.69" y1="336.60" x2="283.69" y2="339.00" stroke="#777" stroke-width="0.8" />
<text transform="translate(286.19,342.90) rotate(-90) scale(0.8696,1)" font-size="9.08" text-anchor="end" fill="#222" stroke="#222" stroke-width="0.2" font-weight="normal">Hb</text>
<line x1="292.01" y1="336.60" x2="292.01" y2="339.00" stroke="#777" stroke-width="0.8" />
<text transform="translate(294.51,342.90) rotate(-90) scale(0.8696,1)" font-size="9.08" text-anchor="end" fill="#222" stroke="#222" stroke-width="0.2" font-weight="normal">Ht</text>
<line x1="300.33" y1="336.60" x2="300.33" y2="339.00" stroke="#777" stroke-width="0.8" />
<text transform="translate(302.83,342.90) rotate(-90) scale(0.8696,1)" font-size="9.08" text-anchor="end" fill="#222" stroke="#222" stroke-width="0.2" font-weight="normal">MCV</text>
<line x1="308.66" y1="336.60" x2="308.66" y2="339.00" stroke="#777" stroke-width="0.8" />
<text transform="translate(311.16,342.90) rotate(-90) scale(0.8696,1)" font-size="9.08" text-anchor="end" fill="#222" stroke="#222" stroke-width="0.2" font-weight="normal">MCH</text>
<line x1="316.98" y1="336.60" x2="316.98" y2="339.00" stroke="#777" stroke-width="0.8" />
<text transform="translate(319.48,342.90) rotate(-90) scale(0.8696,1)" font-size="9.08" text-anchor="end" fill="#222" stroke="#222" stroke-width="0.2" font-weight="normal">MCHC</text>
<line x1="325.30" y1="336.60" x2="325.30" y2="339.00" stroke="#777" stroke-width="0.8" />
<text transform="translate(327.80,342.90) rotate(-90) scale(0.8696,1)" font-size="9.08" text-anchor="end" fill="#222" stroke="#222" stroke-width="0.2" font-weight="normal">Plt</text>
<line x1="333.62" y1="336.60" x2="333.62" y2="339.00" stroke="#777" stroke-width="0.8" />
<text transform="translate(336.12,342.90) rotate(-90) scale(0.8696,1)" font-size="9.08" text-anchor="end" fill="#222" stroke="#222" stroke-width="0.2" font-weight="normal">SBP</text>
<line x1="341.94" y1="336.60" x2="341.94" y2="339.00" stroke="#777" stroke-width="0.8" />
<text transform="translate(344.44,342.90) rotate(-90) scale(0.8696,1)" font-size="9.08" text-anchor="end" fill="#222" stroke="#222" stroke-width="0.2" font-weight="normal">DBP</text>
<line x1="350.27" y1="336.60" x2="350.27" y2="339.00" stroke="#777" stroke-width="0.8" />
<text transform="translate(352.77,342.90) rotate(-90) scale(0.8696,1)" font-size="9.08" text-anchor="end" fill="#222" stroke="#222" stroke-width="0.2" font-weight="normal">MAP</text>
<line x1="358.59" y1="336.60" x2="358.59" y2="339.00" stroke="#777" stroke-width="0.8" />
<text transform="translate(361.09,342.90) rotate(-90) scale(0.8696,1)" font-size="9.08" text-anchor="end" fill="#222" stroke="#222" stroke-width="0.2" font-weight="normal">PP</text>
<line x1="366.91" y1="336.60" x2="366.91" y2="339.00" stroke="#777" stroke-width="0.8" />
<text transform="translate(369.41,342.90) rotate(-90) scale(0.8696,1)" font-size="9.08" text-anchor="end" fill="#222" stroke="#222" stroke-width="0.2" font-weight="normal">Stroke</text>
<line x1="375.23" y1="336.60" x2="375.23" y2="339.00" stroke="#777" stroke-width="0.8" />
<text transform="translate(377.73,342.90) rotate(-90) scale(0.8696,1)" font-size="9.08" text-anchor="end" fill="#222" stroke="#222" stroke-width="0.2" font-weight="normal">CAD</text>
<line x1="383.56" y1="336.60" x2="383.56" y2="339.00" stroke="#777" stroke-width="0.8" />
<text transform="translate(386.06,342.90) rotate(-90) scale(0.8696,1)" font-size="9.08" text-anchor="end" fill="#222" stroke="#222" stroke-width="0.2" font-weight="normal">Arrhythmia</text>
<line x1="391.88" y1="336.60" x2="391.88" y2="339.00" stroke="#777" stroke-width="0.8" />
<text transform="translate(394.38,342.90) rotate(-90) scale(0.8696,1)" font-size="9.08" text-anchor="end" fill="#222" stroke="#222" stroke-width="0.2" font-weight="normal">DL</text>
<line x1="400.20" y1="336.60" x2="400.20" y2="339.00" stroke="#777" stroke-width="0.8" />
<text transform="translate(402.70,342.90) rotate(-90) scale(0.8696,1)" font-size="9.08" text-anchor="end" fill="#222" stroke="#222" stroke-width="0.2" font-weight="normal">T2D</text>
<line x1="408.52" y1="336.60" x2="408.52" y2="339.00" stroke="#777" stroke-width="0.8" />
<text transform="translate(411.02,342.90) rotate(-90) scale(0.8696,1)" font-size="9.08" text-anchor="end" fill="#222" stroke="#222" stroke-width="0.2" font-weight="normal">Asthma</text>
<line x1="416.84" y1="336.60" x2="416.84" y2="339.00" stroke="#777" stroke-width="0.8" />
<text transform="translate(419.34,342.90) rotate(-90) scale(0.8696,1)" font-size="9.08" text-anchor="end" fill="#222" stroke="#222" stroke-width="0.2" font-weight="normal">Cataract</text>
<line x1="425.16" y1="336.60" x2="425.16" y2="339.00" stroke="#777" stroke-width="0.8" />
<text transform="translate(427.66,342.90) rotate(-90) scale(0.8696,1)" font-size="9.08" text-anchor="end" fill="#222" stroke="#222" stroke-width="0.2" font-weight="normal">Pollinosis</text>
<line x1="433.49" y1="336.60" x2="433.49" y2="339.00" stroke="#777" stroke-width="0.8" />
<text transform="translate(435.99,342.90) rotate(-90) scale(0.8696,1)" font-size="9.08" text-anchor="end" fill="#222" stroke="#222" stroke-width="0.2" font-weight="normal">Urolithiasis</text>
<text transform="translate(14.50,250.50) rotate(-90) scale(0.8696,1)" font-size="8.91" text-anchor="start" fill="#222" stroke="#222" stroke-width="0.14" font-weight="normal"><tspan font-style="italic">h</tspan><tspan font-size="6.44" dy="-3.91">2</tspan><tspan font-size="6.44" dy="6.79">G×E</tspan><tspan dy="-2.88"> in BBJ1</tspan></text>
<text x="-0.30" y="408.80" font-size="10.5" text-anchor="start" fill="#000" font-weight="bold" font-style="normal" >c</text>
<rect x="34.80" y="433.10" width="7.70" height="4.80" fill="#3aabf5"/>
<rect x="34.80" y="437.90" width="7.70" height="158.50" fill="#8b4a16"/>
<rect x="43.12" y="506.90" width="7.70" height="8.30" fill="#3aabf5"/>
<rect x="43.12" y="515.20" width="7.70" height="81.20" fill="#8b4a16"/>
<rect x="51.44" y="506.90" width="7.70" height="5.00" fill="#3aabf5"/>
<rect x="51.44" y="511.90" width="7.70" height="84.50" fill="#8b4a16"/>
<rect x="59.76" y="522.20" width="7.70" height="5.70" fill="#3aabf5"/>
<rect x="59.76" y="527.90" width="7.70" height="68.50" fill="#8b4a16"/>
<rect x="68.08" y="522.20" width="7.70" height="5.70" fill="#3aabf5"/>
<rect x="68.08" y="527.90" width="7.70" height="68.50" fill="#8b4a16"/>
<rect x="76.40" y="530.00" width="7.70" height="4.90" fill="#3aabf5"/>
<rect x="76.40" y="534.90" width="7.70" height="61.50" fill="#8b4a16"/>
<rect x="84.72" y="541.00" width="7.70" height="14.20" fill="#3aabf5"/>
<rect x="84.72" y="555.20" width="7.70" height="41.20" fill="#8b4a16"/>
<line x1="38.65" y1="421.10" x2="38.65" y2="453.90" stroke="#6e3a14" stroke-width="1.0" stroke-opacity="0.7"/>
<line x1="37.25" y1="421.10" x2="40.05" y2="421.10" stroke="#6e3a14" stroke-width="0.9" stroke-opacity="0.7"/>
<line x1="37.25" y1="453.90" x2="40.05" y2="453.90" stroke="#6e3a14" stroke-width="0.9" stroke-opacity="0.7"/>
<line x1="38.65" y1="429.80" x2="38.65" y2="436.00" stroke="#2a7fc0" stroke-width="0.8" />
<line x1="37.35" y1="429.80" x2="39.95" y2="429.80" stroke="#2a7fc0" stroke-width="0.8" />
<line x1="37.35" y1="436.00" x2="39.95" y2="436.00" stroke="#2a7fc0" stroke-width="0.8" />
<line x1="46.97" y1="508.60" x2="46.97" y2="521.70" stroke="#6e3a14" stroke-width="1.0" stroke-opacity="0.7"/>
<line x1="45.57" y1="508.60" x2="48.37" y2="508.60" stroke="#6e3a14" stroke-width="0.9" stroke-opacity="0.7"/>
<line x1="45.57" y1="521.70" x2="48.37" y2="521.70" stroke="#6e3a14" stroke-width="0.9" stroke-opacity="0.7"/>
<line x1="46.97" y1="503.10" x2="46.97" y2="511.90" stroke="#2a7fc0" stroke-width="0.8" />
<line x1="45.67" y1="503.10" x2="48.27" y2="503.10" stroke="#2a7fc0" stroke-width="0.8" />
<line x1="45.67" y1="511.90" x2="48.27" y2="511.90" stroke="#2a7fc0" stroke-width="0.8" />
<line x1="55.29" y1="479.80" x2="55.29" y2="543.60" stroke="#6e3a14" stroke-width="1.0" stroke-opacity="0.7"/>
<line x1="53.89" y1="479.80" x2="56.69" y2="479.80" stroke="#6e3a14" stroke-width="0.9" stroke-opacity="0.7"/>
<line x1="53.89" y1="543.60" x2="56.69" y2="543.60" stroke="#6e3a14" stroke-width="0.9" stroke-opacity="0.7"/>
<line x1="55.29" y1="502.70" x2="55.29" y2="510.80" stroke="#2a7fc0" stroke-width="0.8" />
<line x1="53.99" y1="502.70" x2="56.59" y2="502.70" stroke="#2a7fc0" stroke-width="0.8" />
<line x1="53.99" y1="510.80" x2="56.59" y2="510.80" stroke="#2a7fc0" stroke-width="0.8" />
<line x1="63.61" y1="522.80" x2="63.61" y2="536.00" stroke="#6e3a14" stroke-width="1.0" stroke-opacity="0.7"/>
<line x1="62.21" y1="522.80" x2="65.01" y2="522.80" stroke="#6e3a14" stroke-width="0.9" stroke-opacity="0.7"/>
<line x1="62.21" y1="536.00" x2="65.01" y2="536.00" stroke="#6e3a14" stroke-width="0.9" stroke-opacity="0.7"/>
<line x1="63.61" y1="518.40" x2="63.61" y2="526.00" stroke="#2a7fc0" stroke-width="0.8" />
<line x1="62.31" y1="518.40" x2="64.91" y2="518.40" stroke="#2a7fc0" stroke-width="0.8" />
<line x1="62.31" y1="526.00" x2="64.91" y2="526.00" stroke="#2a7fc0" stroke-width="0.8" />
<line x1="71.93" y1="500.30" x2="71.93" y2="554.50" stroke="#6e3a14" stroke-width="1.0" stroke-opacity="0.7"/>
<line x1="70.53" y1="500.30" x2="73.33" y2="500.30" stroke="#6e3a14" stroke-width="0.9" stroke-opacity="0.7"/>
<line x1="70.53" y1="554.50" x2="73.33" y2="554.50" stroke="#6e3a14" stroke-width="0.9" stroke-opacity="0.7"/>
<line x1="71.93" y1="518.40" x2="71.93" y2="526.00" stroke="#2a7fc0" stroke-width="0.8" />
<line x1="70.63" y1="518.40" x2="73.23" y2="518.40" stroke="#2a7fc0" stroke-width="0.8" />
<line x1="70.63" y1="526.00" x2="73.23" y2="526.00" stroke="#2a7fc0" stroke-width="0.8" />
<line x1="80.25" y1="531.00" x2="80.25" y2="538.00" stroke="#6e3a14" stroke-width="1.0" stroke-opacity="0.7"/>
<line x1="78.85" y1="531.00" x2="81.65" y2="531.00" stroke="#6e3a14" stroke-width="0.9" stroke-opacity="0.7"/>
<line x1="78.85" y1="538.00" x2="81.65" y2="538.00" stroke="#6e3a14" stroke-width="0.9" stroke-opacity="0.7"/>
<line x1="80.25" y1="526.50" x2="80.25" y2="533.00" stroke="#2a7fc0" stroke-width="0.8" />
<line x1="78.95" y1="526.50" x2="81.55" y2="526.50" stroke="#2a7fc0" stroke-width="0.8" />
<line x1="78.95" y1="533.00" x2="81.55" y2="533.00" stroke="#2a7fc0" stroke-width="0.8" />
<line x1="88.57" y1="547.00" x2="88.57" y2="563.50" stroke="#6e3a14" stroke-width="1.0" stroke-opacity="0.7"/>
<line x1="87.17" y1="547.00" x2="89.97" y2="547.00" stroke="#6e3a14" stroke-width="0.9" stroke-opacity="0.7"/>
<line x1="87.17" y1="563.50" x2="89.97" y2="563.50" stroke="#6e3a14" stroke-width="0.9" stroke-opacity="0.7"/>
<line x1="88.57" y1="532.20" x2="88.57" y2="551.30" stroke="#2a7fc0" stroke-width="0.8" />
<line x1="87.27" y1="532.20" x2="89.87" y2="532.20" stroke="#2a7fc0" stroke-width="0.8" />
<line x1="87.27" y1="551.30" x2="89.87" y2="551.30" stroke="#2a7fc0" stroke-width="0.8" />
<line x1="38.65" y1="602.00" x2="38.65" y2="604.60" stroke="#777" stroke-width="0.8" />
<text transform="translate(41.25,608.20) rotate(-90) scale(0.8696,1)" font-size="9.08" text-anchor="end" fill="#222" stroke="#222" stroke-width="0.2" font-weight="normal">Height</text>
<line x1="46.97" y1="602.00" x2="46.97" y2="604.60" stroke="#777" stroke-width="0.8" />
<text transform="translate(49.57,608.20) rotate(-90) scale(0.8696,1)" font-size="9.08" text-anchor="end" fill="#222" stroke="#222" stroke-width="0.2" font-weight="normal">BMI</text>
<line x1="55.29" y1="602.00" x2="55.29" y2="604.60" stroke="#777" stroke-width="0.8" />
<text transform="translate(57.89,608.20) rotate(-90) scale(0.8696,1)" font-size="9.08" text-anchor="end" fill="#222" stroke="#222" stroke-width="0.2" font-weight="normal">HDL-C</text>
<line x1="63.61" y1="602.00" x2="63.61" y2="604.60" stroke="#777" stroke-width="0.8" />
<text transform="translate(66.21,608.20) rotate(-90) scale(0.8696,1)" font-size="9.08" text-anchor="end" fill="#222" stroke="#222" stroke-width="0.2" font-weight="normal">sCr</text>
<line x1="71.93" y1="602.00" x2="71.93" y2="604.60" stroke="#777" stroke-width="0.8" />
<text transform="translate(74.53,608.20) rotate(-90) scale(0.8696,1)" font-size="9.08" text-anchor="end" fill="#222" stroke="#222" stroke-width="0.2" font-weight="normal">CRP</text>
<line x1="80.25" y1="602.00" x2="80.25" y2="604.60" stroke="#777" stroke-width="0.8" />
<text transform="translate(82.85,608.20) rotate(-90) scale(0.8696,1)" font-size="9.08" text-anchor="end" fill="#222" stroke="#222" stroke-width="0.2" font-weight="normal">DBP</text>
<line x1="88.57" y1="602.00" x2="88.57" y2="604.60" stroke="#777" stroke-width="0.8" />
<text transform="translate(91.17,608.20) rotate(-90) scale(0.8696,1)" font-size="9.08" text-anchor="end" fill="#222" stroke="#222" stroke-width="0.2" font-weight="normal">Asthma</text>
<rect x="99.50" y="456.10" width="7.40" height="8.90" fill="#3aabf5"/>
<rect x="99.50" y="465.00" width="7.40" height="131.40" fill="#8b4a16"/>
<rect x="107.83" y="513.10" width="7.40" height="16.50" fill="#3aabf5"/>
<rect x="107.83" y="529.60" width="7.40" height="66.80" fill="#8b4a16"/>
<rect x="116.16" y="517.10" width="7.40" height="19.00" fill="#3aabf5"/>
<rect x="116.16" y="536.10" width="7.40" height="60.30" fill="#8b4a16"/>
<rect x="124.49" y="532.80" width="7.40" height="15.80" fill="#3aabf5"/>
<rect x="124.49" y="548.60" width="7.40" height="47.80" fill="#8b4a16"/>
<rect x="132.82" y="557.30" width="7.40" height="10.10" fill="#3aabf5"/>
<rect x="132.82" y="567.40" width="7.40" height="29.00" fill="#8b4a16"/>
<rect x="141.15" y="516.80" width="7.40" height="23.70" fill="#3aabf5"/>
<rect x="141.15" y="540.50" width="7.40" height="55.90" fill="#8b4a16"/>
<rect x="149.48" y="526.30" width="7.40" height="20.70" fill="#3aabf5"/>
<rect x="149.48" y="547.00" width="7.40" height="49.40" fill="#8b4a16"/>
<rect x="157.81" y="561.30" width="7.40" height="10.50" fill="#3aabf5"/>
<rect x="157.81" y="571.80" width="7.40" height="24.60" fill="#8b4a16"/>
<rect x="166.14" y="566.10" width="7.40" height="10.00" fill="#3aabf5"/>
<rect x="166.14" y="576.10" width="7.40" height="20.30" fill="#8b4a16"/>
<rect x="174.47" y="537.20" width="7.40" height="18.60" fill="#3aabf5"/>
<rect x="174.47" y="555.80" width="7.40" height="40.60" fill="#8b4a16"/>
<rect x="182.80" y="480.90" width="7.40" height="39.90" fill="#3aabf5"/>
<rect x="182.80" y="520.80" width="7.40" height="75.60" fill="#8b4a16"/>
<line x1="103.20" y1="452.20" x2="103.20" y2="476.70" stroke="#6e3a14" stroke-width="1.0" stroke-opacity="0.7"/>
<line x1="101.80" y1="452.20" x2="104.60" y2="452.20" stroke="#6e3a14" stroke-width="0.9" stroke-opacity="0.7"/>
<line x1="101.80" y1="476.70" x2="104.60" y2="476.70" stroke="#6e3a14" stroke-width="0.9" stroke-opacity="0.7"/>
<line x1="103.20" y1="449.40" x2="103.20" y2="462.00" stroke="#2a7fc0" stroke-width="0.8" />
<line x1="101.90" y1="449.40" x2="104.50" y2="449.40" stroke="#2a7fc0" stroke-width="0.8" />
<line x1="101.90" y1="462.00" x2="104.50" y2="462.00" stroke="#2a7fc0" stroke-width="0.8" />
<line x1="111.53" y1="522.50" x2="111.53" y2="535.60" stroke="#6e3a14" stroke-width="1.0" stroke-opacity="0.7"/>
<line x1="110.13" y1="522.50" x2="112.93" y2="522.50" stroke="#6e3a14" stroke-width="0.9" stroke-opacity="0.7"/>
<line x1="110.13" y1="535.60" x2="112.93" y2="535.60" stroke="#6e3a14" stroke-width="0.9" stroke-opacity="0.7"/>
<line x1="111.53" y1="505.30" x2="111.53" y2="520.50" stroke="#2a7fc0" stroke-width="0.8" />
<line x1="110.23" y1="505.30" x2="112.83" y2="505.30" stroke="#2a7fc0" stroke-width="0.8" />
<line x1="110.23" y1="520.50" x2="112.83" y2="520.50" stroke="#2a7fc0" stroke-width="0.8" />
<line x1="119.86" y1="518.00" x2="119.86" y2="553.60" stroke="#6e3a14" stroke-width="1.0" stroke-opacity="0.7"/>
<line x1="118.46" y1="518.00" x2="121.26" y2="518.00" stroke="#6e3a14" stroke-width="0.9" stroke-opacity="0.7"/>
<line x1="118.46" y1="553.60" x2="121.26" y2="553.60" stroke="#6e3a14" stroke-width="0.9" stroke-opacity="0.7"/>
<line x1="119.86" y1="504.40" x2="119.86" y2="529.80" stroke="#2a7fc0" stroke-width="0.8" />
<line x1="118.56" y1="504.40" x2="121.16" y2="504.40" stroke="#2a7fc0" stroke-width="0.8" />
<line x1="118.56" y1="529.80" x2="121.16" y2="529.80" stroke="#2a7fc0" stroke-width="0.8" />
<line x1="128.19" y1="522.50" x2="128.19" y2="574.40" stroke="#6e3a14" stroke-width="1.0" stroke-opacity="0.7"/>
<line x1="126.79" y1="522.50" x2="129.59" y2="522.50" stroke="#6e3a14" stroke-width="0.9" stroke-opacity="0.7"/>
<line x1="126.79" y1="574.40" x2="129.59" y2="574.40" stroke="#6e3a14" stroke-width="0.9" stroke-opacity="0.7"/>
<line x1="128.19" y1="521.90" x2="128.19" y2="548.00" stroke="#2a7fc0" stroke-width="0.8" />
<line x1="126.89" y1="521.90" x2="129.49" y2="521.90" stroke="#2a7fc0" stroke-width="0.8" />
<line x1="126.89" y1="548.00" x2="129.49" y2="548.00" stroke="#2a7fc0" stroke-width="0.8" />
<line x1="136.52" y1="562.40" x2="136.52" y2="572.20" stroke="#6e3a14" stroke-width="1.0" stroke-opacity="0.7"/>
<line x1="135.12" y1="562.40" x2="137.92" y2="562.40" stroke="#6e3a14" stroke-width="0.9" stroke-opacity="0.7"/>
<line x1="135.12" y1="572.20" x2="137.92" y2="572.20" stroke="#6e3a14" stroke-width="0.9" stroke-opacity="0.7"/>
<line x1="136.52" y1="549.20" x2="136.52" y2="565.60" stroke="#2a7fc0" stroke-width="0.8" />
<line x1="135.22" y1="549.20" x2="137.82" y2="549.20" stroke="#2a7fc0" stroke-width="0.8" />
<line x1="135.22" y1="565.60" x2="137.82" y2="565.60" stroke="#2a7fc0" stroke-width="0.8" />
<line x1="144.85" y1="507.00" x2="144.85" y2="572.20" stroke="#6e3a14" stroke-width="1.0" stroke-opacity="0.7"/>
<line x1="143.45" y1="507.00" x2="146.25" y2="507.00" stroke="#6e3a14" stroke-width="0.9" stroke-opacity="0.7"/>
<line x1="143.45" y1="572.20" x2="146.25" y2="572.20" stroke="#6e3a14" stroke-width="0.9" stroke-opacity="0.7"/>
<line x1="144.85" y1="504.80" x2="144.85" y2="528.00" stroke="#2a7fc0" stroke-width="0.8" />
<line x1="143.55" y1="504.80" x2="146.15" y2="504.80" stroke="#2a7fc0" stroke-width="0.8" />
<line x1="143.55" y1="528.00" x2="146.15" y2="528.00" stroke="#2a7fc0" stroke-width="0.8" />
<line x1="153.18" y1="529.50" x2="153.18" y2="564.60" stroke="#6e3a14" stroke-width="1.0" stroke-opacity="0.7"/>
<line x1="151.78" y1="529.50" x2="154.58" y2="529.50" stroke="#6e3a14" stroke-width="0.9" stroke-opacity="0.7"/>
<line x1="151.78" y1="564.60" x2="154.58" y2="564.60" stroke="#6e3a14" stroke-width="0.9" stroke-opacity="0.7"/>
<line x1="153.18" y1="510.30" x2="153.18" y2="541.60" stroke="#2a7fc0" stroke-width="0.8" />
<line x1="151.88" y1="510.30" x2="154.48" y2="510.30" stroke="#2a7fc0" stroke-width="0.8" />
<line x1="151.88" y1="541.60" x2="154.48" y2="541.60" stroke="#2a7fc0" stroke-width="0.8" />
<line x1="161.51" y1="566.70" x2="161.51" y2="576.60" stroke="#6e3a14" stroke-width="1.0" stroke-opacity="0.7"/>
<line x1="160.11" y1="566.70" x2="162.91" y2="566.70" stroke="#6e3a14" stroke-width="0.9" stroke-opacity="0.7"/>
<line x1="160.11" y1="576.60" x2="162.91" y2="576.60" stroke="#6e3a14" stroke-width="0.9" stroke-opacity="0.7"/>
<line x1="161.51" y1="553.20" x2="161.51" y2="567.80" stroke="#2a7fc0" stroke-width="0.8" />
<line x1="160.21" y1="553.20" x2="162.81" y2="553.20" stroke="#2a7fc0" stroke-width="0.8" />
<line x1="160.21" y1="567.80" x2="162.81" y2="567.80" stroke="#2a7fc0" stroke-width="0.8" />
<line x1="169.84" y1="572.00" x2="169.84" y2="580.00" stroke="#6e3a14" stroke-width="1.0" stroke-opacity="0.7"/>
<line x1="168.44" y1="572.00" x2="171.24" y2="572.00" stroke="#6e3a14" stroke-width="0.9" stroke-opacity="0.7"/>
<line x1="168.44" y1="580.00" x2="171.24" y2="580.00" stroke="#6e3a14" stroke-width="0.9" stroke-opacity="0.7"/>
<line x1="169.84" y1="557.30" x2="169.84" y2="574.40" stroke="#2a7fc0" stroke-width="0.8" />
<line x1="168.54" y1="557.30" x2="171.14" y2="557.30" stroke="#2a7fc0" stroke-width="0.8" />
<line x1="168.54" y1="574.40" x2="171.14" y2="574.40" stroke="#2a7fc0" stroke-width="0.8" />
<line x1="178.17" y1="546.00" x2="178.17" y2="565.60" stroke="#6e3a14" stroke-width="1.0" stroke-opacity="0.7"/>
<line x1="176.77" y1="546.00" x2="179.57" y2="546.00" stroke="#6e3a14" stroke-width="0.9" stroke-opacity="0.7"/>
<line x1="176.77" y1="565.60" x2="179.57" y2="565.60" stroke="#6e3a14" stroke-width="0.9" stroke-opacity="0.7"/>
<line x1="178.17" y1="523.00" x2="178.17" y2="554.70" stroke="#2a7fc0" stroke-width="0.8" />
<line x1="176.87" y1="523.00" x2="179.47" y2="523.00" stroke="#2a7fc0" stroke-width="0.8" />
<line x1="176.87" y1="554.70" x2="179.47" y2="554.70" stroke="#2a7fc0" stroke-width="0.8" />
<line x1="186.50" y1="511.10" x2="186.50" y2="529.80" stroke="#6e3a14" stroke-width="1.0" stroke-opacity="0.7"/>
<line x1="185.10" y1="511.10" x2="187.90" y2="511.10" stroke="#6e3a14" stroke-width="0.9" stroke-opacity="0.7"/>
<line x1="185.10" y1="529.80" x2="187.90" y2="529.80" stroke="#6e3a14" stroke-width="0.9" stroke-opacity="0.7"/>
<line x1="186.50" y1="456.10" x2="186.50" y2="504.80" stroke="#2a7fc0" stroke-width="0.8" />
<line x1="185.20" y1="456.10" x2="187.80" y2="456.10" stroke="#2a7fc0" stroke-width="0.8" />
<line x1="185.20" y1="504.80" x2="187.80" y2="504.80" stroke="#2a7fc0" stroke-width="0.8" />
<line x1="103.20" y1="602.00" x2="103.20" y2="604.60" stroke="#777" stroke-width="0.8" />
<text transform="translate(105.80,608.20) rotate(-90) scale(0.8696,1)" font-size="9.08" text-anchor="end" fill="#222" stroke="#222" stroke-width="0.2" font-weight="normal">Height</text>
<line x1="111.53" y1="602.00" x2="111.53" y2="604.60" stroke="#777" stroke-width="0.8" />
<text transform="translate(114.13,608.20) rotate(-90) scale(0.8696,1)" font-size="9.08" text-anchor="end" fill="#222" stroke="#222" stroke-width="0.2" font-weight="normal">BMI</text>
<line x1="119.86" y1="602.00" x2="119.86" y2="604.60" stroke="#777" stroke-width="0.8" />
<text transform="translate(122.46,608.20) rotate(-90) scale(0.8696,1)" font-size="9.08" text-anchor="end" fill="#222" stroke="#222" stroke-width="0.2" font-weight="normal">HDL-C</text>
<line x1="128.19" y1="602.00" x2="128.19" y2="604.60" stroke="#777" stroke-width="0.8" />
<text transform="translate(130.79,608.20) rotate(-90) scale(0.8696,1)" font-size="9.08" text-anchor="end" fill="#222" stroke="#222" stroke-width="0.2" font-weight="normal">TG</text>
<line x1="136.52" y1="602.00" x2="136.52" y2="604.60" stroke="#777" stroke-width="0.8" />
<text transform="translate(139.12,608.20) rotate(-90) scale(0.8696,1)" font-size="9.08" text-anchor="end" fill="#222" stroke="#222" stroke-width="0.2" font-weight="normal">BUN</text>
<line x1="144.85" y1="602.00" x2="144.85" y2="604.60" stroke="#777" stroke-width="0.8" />
<text transform="translate(147.45,608.20) rotate(-90) scale(0.8696,1)" font-size="9.08" text-anchor="end" fill="#222" stroke="#222" stroke-width="0.2" font-weight="normal">UA</text>
<line x1="153.18" y1="602.00" x2="153.18" y2="604.60" stroke="#777" stroke-width="0.8" />
<text transform="translate(155.78,608.20) rotate(-90) scale(0.8696,1)" font-size="9.08" text-anchor="end" fill="#222" stroke="#222" stroke-width="0.2" font-weight="normal">GGT</text>
<line x1="161.51" y1="602.00" x2="161.51" y2="604.60" stroke="#777" stroke-width="0.8" />
<text transform="translate(164.11,608.20) rotate(-90) scale(0.8696,1)" font-size="9.08" text-anchor="end" fill="#222" stroke="#222" stroke-width="0.2" font-weight="normal">DBP</text>
<line x1="169.84" y1="602.00" x2="169.84" y2="604.60" stroke="#777" stroke-width="0.8" />
<text transform="translate(172.44,608.20) rotate(-90) scale(0.8696,1)" font-size="9.08" text-anchor="end" fill="#222" stroke="#222" stroke-width="0.2" font-weight="normal">PP</text>
<line x1="178.17" y1="602.00" x2="178.17" y2="604.60" stroke="#777" stroke-width="0.8" />
<text transform="translate(180.77,608.20) rotate(-90) scale(0.8696,1)" font-size="9.08" text-anchor="end" fill="#222" stroke="#222" stroke-width="0.2" font-weight="normal">DL</text>
<line x1="186.50" y1="602.00" x2="186.50" y2="604.60" stroke="#777" stroke-width="0.8" />
<text transform="translate(189.10,608.20) rotate(-90) scale(0.8696,1)" font-size="9.08" text-anchor="end" fill="#222" stroke="#222" stroke-width="0.2" font-weight="normal">T2D</text>
<line x1="33.70" y1="412.70" x2="33.70" y2="602.00" stroke="#777" stroke-width="1" />
<line x1="33.70" y1="602.00" x2="94.00" y2="602.00" stroke="#777" stroke-width="1" />
<line x1="98.40" y1="412.70" x2="98.40" y2="602.00" stroke="#777" stroke-width="1" />
<line x1="98.40" y1="602.00" x2="192.50" y2="602.00" stroke="#777" stroke-width="1" />
<line x1="31.20" y1="433.40" x2="33.70" y2="433.40" stroke="#777" stroke-width="0.9" />
<text transform="translate(27.30,436.10) scale(0.8696,1)" font-size="8.74" text-anchor="end" fill="#333" stroke="#333" stroke-width="0.14" font-weight="normal">0.4</text>
<line x1="31.20" y1="474.15" x2="33.70" y2="474.15" stroke="#777" stroke-width="0.9" />
<text transform="translate(27.30,476.85) scale(0.8696,1)" font-size="8.74" text-anchor="end" fill="#333" stroke="#333" stroke-width="0.14" font-weight="normal">0.3</text>
<line x1="31.20" y1="514.90" x2="33.70" y2="514.90" stroke="#777" stroke-width="0.9" />
<text transform="translate(27.30,517.60) scale(0.8696,1)" font-size="8.74" text-anchor="end" fill="#333" stroke="#333" stroke-width="0.14" font-weight="normal">0.2</text>
<line x1="31.20" y1="555.65" x2="33.70" y2="555.65" stroke="#777" stroke-width="0.9" />
<text transform="translate(27.30,558.35) scale(0.8696,1)" font-size="8.74" text-anchor="end" fill="#333" stroke="#333" stroke-width="0.14" font-weight="normal">0.1</text>
<line x1="31.20" y1="596.40" x2="33.70" y2="596.40" stroke="#777" stroke-width="0.9" />
<text transform="translate(27.30,599.10) scale(0.8696,1)" font-size="8.74" text-anchor="end" fill="#333" stroke="#333" stroke-width="0.14" font-weight="normal">0</text>
<text transform="translate(9.30,512.00) rotate(-90) scale(0.8696,1)" font-size="8.74" text-anchor="start" fill="#222" stroke="#222" stroke-width="0.14" font-weight="normal"><tspan font-style="italic">h</tspan><tspan font-size="6.44" dy="-4.60">2</tspan></text>
<rect x="109.90" y="415.80" width="7.00" height="10.90" fill="#3aabf5"/>
<line x1="109.90" y1="421.20" x2="116.90" y2="421.20" stroke="#2a7fc0" stroke-width="0.8" />
<rect x="109.90" y="429.20" width="7.00" height="10.90" fill="#8b4a16"/>
<line x1="109.90" y1="434.60" x2="116.90" y2="434.60" stroke="#6e3a14" stroke-width="0.8" />
<text transform="translate(120.50,424.60) scale(0.8696,1)" font-size="9.14" text-anchor="start" fill="#222" stroke="#222" stroke-width="0.14" font-weight="normal">G×E</text>
<text transform="translate(120.50,438.00) scale(0.8696,1)" font-size="9.14" text-anchor="start" fill="#222" stroke="#222" stroke-width="0.14" font-weight="normal">Marginal effect</text>
<text x="200.30" y="408.80" font-size="10.3" text-anchor="start" fill="#000" font-weight="bold" font-style="normal" >d</text>
<line x1="394.40" y1="412.20" x2="394.40" y2="530.00" stroke="#c8c8c8" stroke-width="0.9" stroke-opacity="0.8"/>
<line x1="368.10" y1="466.90" x2="418.80" y2="466.90" stroke="#c8c8c8" stroke-width="0.9" stroke-opacity="0.8"/>
<line x1="378.40" y1="465.60" x2="378.40" y2="527.00" stroke="#c8c8c8" stroke-width="0.9" stroke-opacity="0.8"/>
<line x1="362.10" y1="496.20" x2="395.70" y2="496.20" stroke="#c8c8c8" stroke-width="0.9" stroke-opacity="0.8"/>
<line x1="384.50" y1="491.50" x2="384.50" y2="560.00" stroke="#c8c8c8" stroke-width="0.9" stroke-opacity="0.8"/>
<line x1="360.00" y1="525.80" x2="405.00" y2="525.80" stroke="#c8c8c8" stroke-width="0.9" stroke-opacity="0.8"/>
<line x1="377.20" y1="505.00" x2="377.20" y2="575.00" stroke="#c8c8c8" stroke-width="0.9" stroke-opacity="0.8"/>
<line x1="352.00" y1="540.30" x2="402.00" y2="540.30" stroke="#c8c8c8" stroke-width="0.9" stroke-opacity="0.8"/>
<line x1="388.60" y1="525.00" x2="388.60" y2="598.00" stroke="#c8c8c8" stroke-width="0.9" stroke-opacity="0.8"/>
<line x1="352.00" y1="560.90" x2="425.00" y2="560.90" stroke="#c8c8c8" stroke-width="0.9" stroke-opacity="0.8"/>
<line x1="295.60" y1="492.10" x2="295.60" y2="565.90" stroke="#c8c8c8" stroke-width="0.9" stroke-opacity="0.8"/>
<line x1="241.40" y1="529.20" x2="342.00" y2="529.20" stroke="#c8c8c8" stroke-width="0.9" stroke-opacity="0.8"/>
<line x1="250.70" y1="505.40" x2="250.70" y2="568.80" stroke="#c8c8c8" stroke-width="0.9" stroke-opacity="0.8"/>
<line x1="241.40" y1="538.00" x2="303.50" y2="538.00" stroke="#c8c8c8" stroke-width="0.9" stroke-opacity="0.8"/>
<line x1="348.75" y1="487.00" x2="348.75" y2="553.00" stroke="#c8c8c8" stroke-width="0.9" stroke-opacity="0.8"/>
<line x1="331.40" y1="520.25" x2="361.30" y2="520.25" stroke="#c8c8c8" stroke-width="0.9" stroke-opacity="0.8"/>
<line x1="359.40" y1="495.00" x2="359.40" y2="552.00" stroke="#c8c8c8" stroke-width="0.9" stroke-opacity="0.8"/>
<line x1="325.50" y1="523.40" x2="370.00" y2="523.40" stroke="#c8c8c8" stroke-width="0.9" stroke-opacity="0.8"/>
<line x1="360.25" y1="497.00" x2="360.25" y2="563.00" stroke="#c8c8c8" stroke-width="0.9" stroke-opacity="0.8"/>
<line x1="338.00" y1="530.00" x2="382.00" y2="530.00" stroke="#c8c8c8" stroke-width="0.9" stroke-opacity="0.8"/>
<line x1="366.50" y1="496.00" x2="366.50" y2="560.00" stroke="#c8c8c8" stroke-width="0.9" stroke-opacity="0.8"/>
<line x1="345.00" y1="527.75" x2="388.00" y2="527.75" stroke="#c8c8c8" stroke-width="0.9" stroke-opacity="0.8"/>
<line x1="353.50" y1="503.00" x2="353.50" y2="566.00" stroke="#c8c8c8" stroke-width="0.9" stroke-opacity="0.8"/>
<line x1="330.00" y1="533.40" x2="375.00" y2="533.40" stroke="#c8c8c8" stroke-width="0.9" stroke-opacity="0.8"/>
<line x1="362.75" y1="500.00" x2="362.75" y2="566.00" stroke="#c8c8c8" stroke-width="0.9" stroke-opacity="0.8"/>
<line x1="340.00" y1="533.40" x2="385.00" y2="533.40" stroke="#c8c8c8" stroke-width="0.9" stroke-opacity="0.8"/>
<line x1="361.25" y1="505.00" x2="361.25" y2="570.00" stroke="#c8c8c8" stroke-width="0.9" stroke-opacity="0.8"/>
<line x1="338.00" y1="536.90" x2="384.00" y2="536.90" stroke="#c8c8c8" stroke-width="0.9" stroke-opacity="0.8"/>
<line x1="350.60" y1="505.00" x2="350.60" y2="568.00" stroke="#c8c8c8" stroke-width="0.9" stroke-opacity="0.8"/>
<line x1="328.00" y1="536.50" x2="372.00" y2="536.50" stroke="#c8c8c8" stroke-width="0.9" stroke-opacity="0.8"/>
<line x1="336.90" y1="503.00" x2="336.90" y2="575.00" stroke="#c8c8c8" stroke-width="0.9" stroke-opacity="0.8"/>
<line x1="318.00" y1="538.75" x2="356.00" y2="538.75" stroke="#c8c8c8" stroke-width="0.9" stroke-opacity="0.8"/>
<line x1="338.50" y1="510.00" x2="338.50" y2="576.00" stroke="#c8c8c8" stroke-width="0.9" stroke-opacity="0.8"/>
<line x1="316.00" y1="542.90" x2="360.00" y2="542.90" stroke="#c8c8c8" stroke-width="0.9" stroke-opacity="0.8"/>
<line x1="345.60" y1="508.00" x2="345.60" y2="575.00" stroke="#c8c8c8" stroke-width="0.9" stroke-opacity="0.8"/>
<line x1="325.00" y1="541.90" x2="366.00" y2="541.90" stroke="#c8c8c8" stroke-width="0.9" stroke-opacity="0.8"/>
<line x1="346.25" y1="512.00" x2="346.25" y2="578.00" stroke="#c8c8c8" stroke-width="0.9" stroke-opacity="0.8"/>
<line x1="326.00" y1="544.40" x2="367.00" y2="544.40" stroke="#c8c8c8" stroke-width="0.9" stroke-opacity="0.8"/>
<line x1="364.60" y1="510.00" x2="364.60" y2="578.00" stroke="#c8c8c8" stroke-width="0.9" stroke-opacity="0.8"/>
<line x1="342.00" y1="543.75" x2="387.00" y2="543.75" stroke="#c8c8c8" stroke-width="0.9" stroke-opacity="0.8"/>
<line x1="357.90" y1="514.00" x2="357.90" y2="580.00" stroke="#c8c8c8" stroke-width="0.9" stroke-opacity="0.8"/>
<line x1="336.00" y1="546.60" x2="380.00" y2="546.60" stroke="#c8c8c8" stroke-width="0.9" stroke-opacity="0.8"/>
<line x1="363.10" y1="512.00" x2="363.10" y2="582.00" stroke="#c8c8c8" stroke-width="0.9" stroke-opacity="0.8"/>
<line x1="340.00" y1="546.90" x2="386.00" y2="546.90" stroke="#c8c8c8" stroke-width="0.9" stroke-opacity="0.8"/>
<line x1="364.75" y1="515.00" x2="364.75" y2="584.00" stroke="#c8c8c8" stroke-width="0.9" stroke-opacity="0.8"/>
<line x1="342.00" y1="549.40" x2="388.00" y2="549.40" stroke="#c8c8c8" stroke-width="0.9" stroke-opacity="0.8"/>
<line x1="343.75" y1="517.00" x2="343.75" y2="582.00" stroke="#c8c8c8" stroke-width="0.9" stroke-opacity="0.8"/>
<line x1="322.00" y1="549.40" x2="365.00" y2="549.40" stroke="#c8c8c8" stroke-width="0.9" stroke-opacity="0.8"/>
<line x1="342.75" y1="518.00" x2="342.75" y2="585.00" stroke="#c8c8c8" stroke-width="0.9" stroke-opacity="0.8"/>
<line x1="320.00" y1="551.25" x2="365.00" y2="551.25" stroke="#c8c8c8" stroke-width="0.9" stroke-opacity="0.8"/>
<line x1="325.25" y1="522.00" x2="325.25" y2="586.00" stroke="#c8c8c8" stroke-width="0.9" stroke-opacity="0.8"/>
<line x1="305.00" y1="553.40" x2="346.00" y2="553.40" stroke="#c8c8c8" stroke-width="0.9" stroke-opacity="0.8"/>
<line x1="329.40" y1="524.00" x2="329.40" y2="588.00" stroke="#c8c8c8" stroke-width="0.9" stroke-opacity="0.8"/>
<line x1="308.00" y1="555.40" x2="350.00" y2="555.40" stroke="#c8c8c8" stroke-width="0.9" stroke-opacity="0.8"/>
<line x1="345.40" y1="524.00" x2="345.40" y2="590.00" stroke="#c8c8c8" stroke-width="0.9" stroke-opacity="0.8"/>
<line x1="324.00" y1="556.50" x2="367.00" y2="556.50" stroke="#c8c8c8" stroke-width="0.9" stroke-opacity="0.8"/>
<line x1="343.10" y1="525.00" x2="343.10" y2="590.00" stroke="#c8c8c8" stroke-width="0.9" stroke-opacity="0.8"/>
<line x1="322.00" y1="557.25" x2="364.00" y2="557.25" stroke="#c8c8c8" stroke-width="0.9" stroke-opacity="0.8"/>
<line x1="351.60" y1="526.00" x2="351.60" y2="592.00" stroke="#c8c8c8" stroke-width="0.9" stroke-opacity="0.8"/>
<line x1="330.00" y1="558.50" x2="373.00" y2="558.50" stroke="#c8c8c8" stroke-width="0.9" stroke-opacity="0.8"/>
<line x1="356.00" y1="525.00" x2="356.00" y2="592.00" stroke="#c8c8c8" stroke-width="0.9" stroke-opacity="0.8"/>
<line x1="334.00" y1="558.10" x2="378.00" y2="558.10" stroke="#c8c8c8" stroke-width="0.9" stroke-opacity="0.8"/>
<line x1="325.40" y1="528.00" x2="325.40" y2="594.00" stroke="#c8c8c8" stroke-width="0.9" stroke-opacity="0.8"/>
<line x1="305.00" y1="560.25" x2="346.00" y2="560.25" stroke="#c8c8c8" stroke-width="0.9" stroke-opacity="0.8"/>
<line x1="343.40" y1="530.00" x2="343.40" y2="596.00" stroke="#c8c8c8" stroke-width="0.9" stroke-opacity="0.8"/>
<line x1="322.00" y1="562.75" x2="365.00" y2="562.75" stroke="#c8c8c8" stroke-width="0.9" stroke-opacity="0.8"/>
<line x1="355.25" y1="543.00" x2="355.25" y2="601.00" stroke="#c8c8c8" stroke-width="0.9" stroke-opacity="0.8"/>
<line x1="334.00" y1="575.40" x2="377.00" y2="575.40" stroke="#c8c8c8" stroke-width="0.9" stroke-opacity="0.8"/>
<line x1="336.25" y1="546.00" x2="336.25" y2="601.00" stroke="#c8c8c8" stroke-width="0.9" stroke-opacity="0.8"/>
<line x1="316.00" y1="578.10" x2="357.00" y2="578.10" stroke="#c8c8c8" stroke-width="0.9" stroke-opacity="0.8"/>
<line x1="328.30" y1="552.00" x2="328.30" y2="601.00" stroke="#c8c8c8" stroke-width="0.9" stroke-opacity="0.8"/>
<line x1="308.00" y1="584.50" x2="349.00" y2="584.50" stroke="#c8c8c8" stroke-width="0.9" stroke-opacity="0.8"/>
<line x1="344.40" y1="560.00" x2="344.40" y2="601.00" stroke="#c8c8c8" stroke-width="0.9" stroke-opacity="0.8"/>
<line x1="312.00" y1="591.00" x2="377.70" y2="591.00" stroke="#c8c8c8" stroke-width="0.9" stroke-opacity="0.8"/>
<line x1="241.30" y1="412.20" x2="241.30" y2="601.20" stroke="#777" stroke-width="1" />
<line x1="241.30" y1="601.20" x2="442.80" y2="601.20" stroke="#777" stroke-width="1" />
<line x1="342.00" y1="412.20" x2="342.00" y2="601.20" stroke="#4a4a4a" stroke-width="1.5" />
<line x1="241.30" y1="570.50" x2="442.80" y2="570.50" stroke="#222" stroke-width="1.3" />
<line x1="241.30" y1="576.00" x2="442.80" y2="516.40" stroke="#111" stroke-width="1.5" />
<line x1="238.60" y1="421.20" x2="241.30" y2="421.20" stroke="#999" stroke-width="0.9" />
<text transform="translate(234.70,423.90) scale(0.8696,1)" font-size="8.74" text-anchor="end" fill="#333" stroke="#333" stroke-width="0.14" font-weight="normal">0.04</text>
<line x1="238.60" y1="495.90" x2="241.30" y2="495.90" stroke="#999" stroke-width="0.9" />
<text transform="translate(234.70,498.60) scale(0.8696,1)" font-size="8.74" text-anchor="end" fill="#333" stroke="#333" stroke-width="0.14" font-weight="normal">0.02</text>
<line x1="238.60" y1="570.50" x2="241.30" y2="570.50" stroke="#999" stroke-width="0.9" />
<text transform="translate(234.70,573.20) scale(0.8696,1)" font-size="8.74" text-anchor="end" fill="#333" stroke="#333" stroke-width="0.14" font-weight="normal">0</text>
<line x1="268.50" y1="601.20" x2="268.50" y2="603.80" stroke="#777" stroke-width="0.9" />
<text transform="translate(268.50,613.90) scale(0.8696,1)" font-size="8.74" text-anchor="middle" fill="#333" stroke="#333" stroke-width="0.14" font-weight="normal">−0.08</text>
<line x1="305.20" y1="601.20" x2="305.20" y2="603.80" stroke="#777" stroke-width="0.9" />
<text transform="translate(305.20,613.90) scale(0.8696,1)" font-size="8.74" text-anchor="middle" fill="#333" stroke="#333" stroke-width="0.14" font-weight="normal">−0.04</text>
<line x1="342.00" y1="601.20" x2="342.00" y2="603.80" stroke="#777" stroke-width="0.9" />
<text transform="translate(342.00,613.90) scale(0.8696,1)" font-size="8.74" text-anchor="middle" fill="#333" stroke="#333" stroke-width="0.14" font-weight="normal">0</text>
<line x1="378.60" y1="601.20" x2="378.60" y2="603.80" stroke="#777" stroke-width="0.9" />
<text transform="translate(378.60,613.90) scale(0.8696,1)" font-size="8.74" text-anchor="middle" fill="#333" stroke="#333" stroke-width="0.14" font-weight="normal">0.04</text>
<line x1="415.40" y1="601.20" x2="415.40" y2="603.80" stroke="#777" stroke-width="0.9" />
<text transform="translate(415.40,613.90) scale(0.8696,1)" font-size="8.74" text-anchor="middle" fill="#333" stroke="#333" stroke-width="0.14" font-weight="normal">0.08</text>
<circle cx="394.40" cy="466.90" r="2.6" fill="#8a5a4a"/>
<circle cx="378.40" cy="496.20" r="2.6" fill="#9467bd"/>
<circle cx="384.50" cy="525.80" r="2.6" fill="#ee8a2a"/>
<circle cx="377.20" cy="540.30" r="2.6" fill="#ee8a2a"/>
<circle cx="388.60" cy="560.90" r="2.6" fill="#c8282c"/>
<circle cx="295.60" cy="529.20" r="2.6" fill="#ee8a2a"/>
<circle cx="250.70" cy="538.00" r="2.6" fill="#66bdd0"/>
<circle cx="348.75" cy="520.25" r="2.6" fill="#8a5a4a"/>
<circle cx="359.40" cy="523.40" r="2.6" fill="#858585"/>
<circle cx="360.25" cy="530.00" r="2.6" fill="#9467bd"/>
<circle cx="366.50" cy="527.75" r="2.6" fill="#f2dc50"/>
<circle cx="353.50" cy="533.40" r="2.6" fill="#c8282c"/>
<circle cx="362.75" cy="533.40" r="2.6" fill="#ee8a2a"/>
<circle cx="361.25" cy="536.90" r="2.6" fill="#ee8a2a"/>
<circle cx="350.60" cy="536.50" r="2.6" fill="#58a540"/>
<circle cx="336.90" cy="538.75" r="2.6" fill="#58a540"/>
<circle cx="338.50" cy="542.90" r="2.6" fill="#e58ccc"/>
<circle cx="345.60" cy="541.90" r="2.6" fill="#58a540"/>
<circle cx="346.25" cy="544.40" r="2.6" fill="#58a540"/>
<circle cx="364.60" cy="543.75" r="2.6" fill="#f2dc50"/>
<circle cx="357.90" cy="546.60" r="2.6" fill="#f2dc50"/>
<circle cx="363.10" cy="546.90" r="2.6" fill="#c8282c"/>
<circle cx="364.75" cy="549.40" r="2.6" fill="#8a5a4a"/>
<circle cx="343.75" cy="549.40" r="2.6" fill="#66bdd0"/>
<circle cx="342.75" cy="551.25" r="2.6" fill="#58a540"/>
<circle cx="325.25" cy="553.40" r="2.6" fill="#58a540"/>
<circle cx="329.40" cy="555.40" r="2.6" fill="#58a540"/>
<circle cx="345.40" cy="556.50" r="2.6" fill="#8a5a4a"/>
<circle cx="343.10" cy="557.25" r="2.6" fill="#58a540"/>
<circle cx="351.60" cy="558.50" r="2.6" fill="#f2dc50"/>
<circle cx="356.00" cy="558.10" r="2.6" fill="#c8282c"/>
<circle cx="325.40" cy="560.25" r="2.6" fill="#58a540"/>
<circle cx="343.40" cy="562.75" r="2.6" fill="#c8282c"/>
<circle cx="355.25" cy="575.40" r="2.6" fill="#e58ccc"/>
<circle cx="336.25" cy="578.10" r="2.6" fill="#58a540"/>
<circle cx="328.30" cy="584.50" r="2.6" fill="#58a540"/>
<circle cx="344.40" cy="591.00" r="2.6" fill="#ee8a2a"/>
<text transform="translate(247.70,430.10) scale(0.8696,1)" font-size="8.85" text-anchor="start" fill="#222" stroke="#222" stroke-width="0.14" font-weight="normal">Spearman’s <tspan font-style="italic">ρ</tspan> = 0.41</text>
<text transform="translate(247.70,439.40) scale(0.8696,1)" font-size="8.85" text-anchor="start" fill="#222" stroke="#222" stroke-width="0.14" font-weight="normal"><tspan font-style="italic">P</tspan> = 0.011</text>
<text transform="translate(396.60,462.80) scale(0.8696,1)" font-size="9.20" text-anchor="start" fill="#8a5a4a" stroke="#8a5a4a" stroke-width="0.14" font-weight="normal">UA/Urate</text>
<text transform="translate(361.60,492.80) scale(0.8696,1)" font-size="9.20" text-anchor="start" fill="#9467bd" stroke="#9467bd" stroke-width="0.14" font-weight="normal">BMI</text>
<text transform="translate(369.70,521.90) scale(0.8696,1)" font-size="9.20" text-anchor="start" fill="#ee8a2a" stroke="#ee8a2a" stroke-width="0.14" font-weight="normal">HDL-C</text>
<text transform="translate(379.50,549.70) scale(0.8696,1)" font-size="9.20" text-anchor="start" fill="#ee8a2a" stroke="#ee8a2a" stroke-width="0.14" font-weight="normal">TG</text>
<text transform="translate(396.00,568.00) scale(0.8696,1)" font-size="9.20" text-anchor="start" fill="#c8282c" stroke="#c8282c" stroke-width="0.14" font-weight="normal">GGT</text>
<text transform="translate(267.70,527.20) scale(0.8696,1)" font-size="9.20" text-anchor="start" fill="#ee8a2a" stroke="#ee8a2a" stroke-width="0.14" font-weight="normal">HbA1c</text>
<text transform="translate(253.60,546.70) scale(0.8696,1)" font-size="9.20" text-anchor="start" fill="#66bdd0" stroke="#66bdd0" stroke-width="0.14" font-weight="normal">P</text>
<text transform="translate(317.50,627.10) scale(0.8696,1)" font-size="8.91" text-anchor="start" fill="#222" stroke="#222" stroke-width="0.14" font-weight="normal"><tspan font-style="italic">h</tspan><tspan font-size="6.44" dy="-3.91">2</tspan><tspan font-size="6.44" dy="6.79">G×E</tspan><tspan dy="-2.88"> in BBJ1</tspan></text>
<text transform="translate(211.00,532.80) rotate(-90) scale(0.8696,1)" font-size="8.91" text-anchor="start" fill="#222" stroke="#222" stroke-width="0.14" font-weight="normal"><tspan font-style="italic">h</tspan><tspan font-size="6.44" dy="-3.91">2</tspan><tspan font-size="6.44" dy="6.79">G×E</tspan><tspan dy="-2.88"> in UKB1</tspan></text>
<text x="454.60" y="5.60" font-size="10.5" text-anchor="start" fill="#000" font-weight="bold" font-style="normal" >e</text>
<line x1="482.20" y1="29.10" x2="539.60" y2="13.10" stroke="#8a8a8a" stroke-width="2.0"/>
<line x1="488.75" y1="81.00" x2="554.40" y2="78.75" stroke="#8a8a8a" stroke-width="2.0"/>
<line x1="488.75" y1="81.00" x2="491.10" y2="138.90" stroke="#8a8a8a" stroke-width="2.2"/>
<line x1="554.40" y1="78.75" x2="556.60" y2="137.30" stroke="#8a8a8a" stroke-width="2.0"/>
<line x1="488.75" y1="81.00" x2="556.60" y2="137.30" stroke="#8a8a8a" stroke-width="1.6"/>
<line x1="554.40" y1="78.75" x2="491.10" y2="138.90" stroke="#8a8a8a" stroke-width="1.6"/>
<line x1="491.10" y1="138.90" x2="556.60" y2="137.30" stroke="#8a8a8a" stroke-width="1.0"/>
<line x1="522.30" y1="167.90" x2="551.20" y2="202.90" stroke="#8a8a8a" stroke-width="1.4"/>
<line x1="551.20" y1="202.90" x2="512.30" y2="235.70" stroke="#8a8a8a" stroke-width="1.8"/>
<line x1="482.80" y1="199.60" x2="512.30" y2="235.70" stroke="#8a8a8a" stroke-width="1.2"/>
<line x1="662.90" y1="192.60" x2="626.60" y2="225.20" stroke="#8a8a8a" stroke-width="1.6"/>
<line x1="608.50" y1="109.10" x2="658.75" y2="82.90" stroke="#8a8a8a" stroke-width="1.2"/>
<line x1="608.50" y1="109.10" x2="664.00" y2="135.10" stroke="#8a8a8a" stroke-width="1.4"/>
<line x1="658.75" y1="82.90" x2="664.00" y2="135.10" stroke="#8a8a8a" stroke-width="0.9"/>
<line x1="482.20" y1="29.10" x2="488.75" y2="81.00" stroke="#858585" stroke-width="0.75"/>
<line x1="482.20" y1="29.10" x2="554.40" y2="78.75" stroke="#858585" stroke-width="0.75"/>
<line x1="482.20" y1="29.10" x2="491.10" y2="138.90" stroke="#858585" stroke-width="0.75"/>
<line x1="482.20" y1="29.10" x2="556.60" y2="137.30" stroke="#858585" stroke-width="0.75"/>
<line x1="482.20" y1="29.10" x2="608.50" y2="109.10" stroke="#858585" stroke-width="0.75"/>
<line x1="482.20" y1="29.10" x2="664.00" y2="135.10" stroke="#858585" stroke-width="0.75"/>
<line x1="539.60" y1="13.10" x2="488.75" y2="81.00" stroke="#858585" stroke-width="0.75"/>
<line x1="539.60" y1="13.10" x2="554.40" y2="78.75" stroke="#858585" stroke-width="0.75"/>
<line x1="539.60" y1="13.10" x2="491.10" y2="138.90" stroke="#858585" stroke-width="0.75"/>
<line x1="539.60" y1="13.10" x2="556.60" y2="137.30" stroke="#858585" stroke-width="0.75"/>
<line x1="539.60" y1="13.10" x2="658.75" y2="82.90" stroke="#858585" stroke-width="0.75"/>
<line x1="539.60" y1="13.10" x2="664.00" y2="135.10" stroke="#858585" stroke-width="0.75"/>
<line x1="539.60" y1="13.10" x2="608.50" y2="109.10" stroke="#858585" stroke-width="0.75"/>
<line x1="614.70" y1="60.00" x2="488.75" y2="81.00" stroke="#858585" stroke-width="0.75"/>
<line x1="614.70" y1="60.00" x2="554.40" y2="78.75" stroke="#858585" stroke-width="0.75"/>
<line x1="614.70" y1="60.00" x2="491.10" y2="138.90" stroke="#858585" stroke-width="0.75"/>
<line x1="614.70" y1="60.00" x2="556.60" y2="137.30" stroke="#858585" stroke-width="0.75"/>
<line x1="614.70" y1="60.00" x2="522.30" y2="167.90" stroke="#858585" stroke-width="0.75"/>
<line x1="614.70" y1="60.00" x2="551.20" y2="202.90" stroke="#858585" stroke-width="0.75"/>
<line x1="614.70" y1="60.00" x2="608.50" y2="109.10" stroke="#858585" stroke-width="0.75"/>
<line x1="614.70" y1="60.00" x2="658.75" y2="82.90" stroke="#858585" stroke-width="0.75"/>
<line x1="614.70" y1="60.00" x2="664.00" y2="135.10" stroke="#858585" stroke-width="0.75"/>
<line x1="614.70" y1="60.00" x2="626.60" y2="225.20" stroke="#858585" stroke-width="0.75"/>
<line x1="614.70" y1="60.00" x2="662.90" y2="192.60" stroke="#858585" stroke-width="0.75"/>
<line x1="658.20" y1="33.20" x2="658.75" y2="82.90" stroke="#858585" stroke-width="0.75"/>
<line x1="658.20" y1="33.20" x2="614.70" y2="60.00" stroke="#858585" stroke-width="0.75"/>
<line x1="602.50" y1="10.90" x2="614.70" y2="60.00" stroke="#858585" stroke-width="0.75"/>
<line x1="602.50" y1="10.90" x2="658.75" y2="82.90" stroke="#858585" stroke-width="0.75"/>
<line x1="488.75" y1="81.00" x2="608.50" y2="109.10" stroke="#858585" stroke-width="0.75"/>
<line x1="488.75" y1="81.00" x2="658.75" y2="82.90" stroke="#858585" stroke-width="0.75"/>
<line x1="488.75" y1="81.00" x2="664.00" y2="135.10" stroke="#858585" stroke-width="0.75"/>
<line x1="488.75" y1="81.00" x2="522.30" y2="167.90" stroke="#858585" stroke-width="0.75"/>
<line x1="488.75" y1="81.00" x2="626.60" y2="225.20" stroke="#858585" stroke-width="0.75"/>
<line x1="488.75" y1="81.00" x2="662.90" y2="192.60" stroke="#858585" stroke-width="0.75"/>
<line x1="554.40" y1="78.75" x2="608.50" y2="109.10" stroke="#858585" stroke-width="0.75"/>
<line x1="554.40" y1="78.75" x2="658.75" y2="82.90" stroke="#858585" stroke-width="0.75"/>
<line x1="554.40" y1="78.75" x2="664.00" y2="135.10" stroke="#858585" stroke-width="0.75"/>
<line x1="554.40" y1="78.75" x2="522.30" y2="167.90" stroke="#858585" stroke-width="0.75"/>
<line x1="554.40" y1="78.75" x2="626.60" y2="225.20" stroke="#858585" stroke-width="0.75"/>
<line x1="554.40" y1="78.75" x2="662.90" y2="192.60" stroke="#858585" stroke-width="0.75"/>
<line x1="491.10" y1="138.90" x2="522.30" y2="167.90" stroke="#858585" stroke-width="0.75"/>
<line x1="491.10" y1="138.90" x2="608.50" y2="109.10" stroke="#858585" stroke-width="0.75"/>
<line x1="491.10" y1="138.90" x2="664.00" y2="135.10" stroke="#858585" stroke-width="0.75"/>
<line x1="491.10" y1="138.90" x2="626.60" y2="225.20" stroke="#858585" stroke-width="0.75"/>
<line x1="491.10" y1="138.90" x2="662.90" y2="192.60" stroke="#858585" stroke-width="0.75"/>
<line x1="556.60" y1="137.30" x2="608.50" y2="109.10" stroke="#858585" stroke-width="0.75"/>
<line x1="556.60" y1="137.30" x2="664.00" y2="135.10" stroke="#858585" stroke-width="0.75"/>
<line x1="556.60" y1="137.30" x2="658.75" y2="82.90" stroke="#858585" stroke-width="0.75"/>
<line x1="556.60" y1="137.30" x2="626.60" y2="225.20" stroke="#858585" stroke-width="0.75"/>
<line x1="556.60" y1="137.30" x2="662.90" y2="192.60" stroke="#858585" stroke-width="0.75"/>
<line x1="556.60" y1="137.30" x2="522.30" y2="167.90" stroke="#858585" stroke-width="0.75"/>
<line x1="608.50" y1="109.10" x2="626.60" y2="225.20" stroke="#858585" stroke-width="0.75"/>
<line x1="608.50" y1="109.10" x2="662.90" y2="192.60" stroke="#858585" stroke-width="0.75"/>
<line x1="608.50" y1="109.10" x2="522.30" y2="167.90" stroke="#858585" stroke-width="0.75"/>
<line x1="608.50" y1="109.10" x2="551.20" y2="202.90" stroke="#858585" stroke-width="0.75"/>
<line x1="658.75" y1="82.90" x2="626.60" y2="225.20" stroke="#858585" stroke-width="0.75"/>
<line x1="658.75" y1="82.90" x2="662.90" y2="192.60" stroke="#858585" stroke-width="0.75"/>
<line x1="664.00" y1="135.10" x2="626.60" y2="225.20" stroke="#858585" stroke-width="0.75"/>
<line x1="664.00" y1="135.10" x2="662.90" y2="192.60" stroke="#858585" stroke-width="0.75"/>
<line x1="664.00" y1="135.10" x2="522.30" y2="167.90" stroke="#858585" stroke-width="0.75"/>
<line x1="664.00" y1="135.10" x2="551.20" y2="202.90" stroke="#858585" stroke-width="0.75"/>
<line x1="522.30" y1="167.90" x2="626.60" y2="225.20" stroke="#858585" stroke-width="0.75"/>
<line x1="522.30" y1="167.90" x2="662.90" y2="192.60" stroke="#858585" stroke-width="0.75"/>
<line x1="551.20" y1="202.90" x2="626.60" y2="225.20" stroke="#858585" stroke-width="0.75"/>
<line x1="551.20" y1="202.90" x2="662.90" y2="192.60" stroke="#858585" stroke-width="0.75"/>
<line x1="482.80" y1="199.60" x2="626.60" y2="225.20" stroke="#8a8a8a" stroke-width="0.7" stroke-dasharray="1.2,1.2"/>
<line x1="482.80" y1="199.60" x2="488.75" y2="81.00" stroke="#8a8a8a" stroke-width="0.6" stroke-dasharray="1,1.2"/>
<line x1="482.80" y1="199.60" x2="491.10" y2="138.90" stroke="#8a8a8a" stroke-width="0.6" stroke-dasharray="1,1.2"/>
<line x1="512.30" y1="235.70" x2="488.75" y2="81.00" stroke="#8a8a8a" stroke-width="0.6" stroke-dasharray="1,1.2"/>
<line x1="512.30" y1="235.70" x2="491.10" y2="138.90" stroke="#8a8a8a" stroke-width="0.6" stroke-dasharray="1,1.2"/>
<line x1="602.50" y1="10.90" x2="658.20" y2="33.20" stroke="#8a8a8a" stroke-width="0.9" stroke-dasharray="1.3,1.3"/>
<line x1="522.30" y1="167.90" x2="482.80" y2="199.60" stroke="#8a8a8a" stroke-width="1.3" stroke-dasharray="2.2,1.4"/>
<path d="M482.20,29.10 Q504.46,-2.02 539.60,13.10" fill="none" stroke="#1f77b4" stroke-width="1.1"/>
<path d="M482.20,29.10 Q517.34,44.22 539.60,13.10" fill="none" stroke="#9467bd" stroke-width="2.3"/>
<path d="M482.20,29.10 Q521.10,57.70 539.60,13.10" fill="none" stroke="#8c564b" stroke-width="1.2"/>
<path d="M488.75,81.00 Q520.27,41.90 554.40,78.75" fill="none" stroke="#1f77b4" stroke-width="2.3"/>
<path d="M488.75,81.00 Q520.86,58.89 554.40,78.75" fill="none" stroke="#8fd13f" stroke-width="2.0"/>
<path d="M488.75,81.00 Q522.33,101.86 554.40,78.75" fill="none" stroke="#17becf" stroke-width="1.2"/>
<path d="M488.75,81.00 Q446.96,111.69 491.10,138.90" fill="none" stroke="#8c564b" stroke-width="1.5"/>
<path d="M488.75,81.00 Q465.94,110.92 491.10,138.90" fill="none" stroke="#ff7f0e" stroke-width="1.2"/>
<path d="M488.75,81.00 Q511.91,109.06 491.10,138.90" fill="none" stroke="#8fd13f" stroke-width="1.2"/>
<path d="M488.75,81.00 Q531.89,108.25 491.10,138.90" fill="none" stroke="#1f77b4" stroke-width="2.4"/>
<path d="M554.40,78.75 Q533.52,108.85 556.60,137.30" fill="none" stroke="#17becf" stroke-width="1.1"/>
<path d="M554.40,78.75 Q581.48,107.05 556.60,137.30" fill="none" stroke="#8c564b" stroke-width="1.3"/>
<path d="M602.50,10.90 Q640.01,-2.09 658.20,33.20" fill="none" stroke="#8c564b" stroke-width="1.4" stroke-dasharray="1.6,1.6"/>
<path d="M602.50,10.90 Q623.66,38.76 658.20,33.20" fill="none" stroke="#1f77b4" stroke-width="2.2" stroke-dasharray="3,2"/>
<path d="M602.50,10.90 Q587.25,40.76 614.70,60.00" fill="none" stroke="#9467bd" stroke-width="1.1"/>
<path d="M658.75,82.90 Q642.87,113.73 608.50,109.10" fill="none" stroke="#9467bd" stroke-width="1.6"/>
<path d="M608.50,109.10 Q627.77,140.21 664.00,135.10" fill="none" stroke="#9467bd" stroke-width="1.6"/>
<path d="M522.30,167.90 Q516.70,201.95 551.20,202.90" fill="none" stroke="#1f77b4" stroke-width="1.6"/>
<path d="M522.30,167.90 Q491.28,169.71 482.80,199.60" fill="none" stroke="#1f77b4" stroke-width="1.4" stroke-dasharray="1.6,1.4"/>
<path d="M551.20,202.90 Q520.15,205.54 512.30,235.70" fill="none" stroke="#8c564b" stroke-width="1.9"/>
<path d="M551.20,202.90 Q545.93,236.12 512.30,235.70" fill="none" stroke="#1f77b4" stroke-width="1.9"/>
<path d="M662.90,192.60 Q630.05,192.53 626.60,225.20" fill="none" stroke="#2ca02c" stroke-width="1.5"/>
<path d="M662.90,192.60 Q662.12,228.24 626.60,225.20" fill="none" stroke="#8c564b" stroke-width="1.4"/>
<ellipse cx="539.60" cy="13.10" rx="13.3" ry="9.9" fill="#e3822e"/>
<text transform="translate(539.60,16.10) scale(0.8696,1)" font-size="9.08" text-anchor="middle" fill="#111" stroke="#111" stroke-width="0.0" font-weight="normal">BS</text>
<ellipse cx="482.20" cy="29.10" rx="13.3" ry="9.9" fill="#e3822e"/>
<text transform="translate(482.20,32.10) scale(0.8696,1)" font-size="9.08" text-anchor="middle" fill="#111" stroke="#111" stroke-width="0.0" font-weight="normal">HbA1c</text>
<ellipse cx="602.50" cy="10.90" rx="13.3" ry="9.9" fill="#7d5548"/>
<text transform="translate(602.50,13.90) scale(0.8696,1)" font-size="9.08" text-anchor="middle" fill="#fff" stroke="#fff" stroke-width="0.0" font-weight="normal">sCr</text>
<ellipse cx="658.20" cy="33.20" rx="13.3" ry="9.9" fill="#7d5548"/>
<text transform="translate(658.20,36.20) scale(0.8696,1)" font-size="9.08" text-anchor="middle" fill="#fff" stroke="#fff" stroke-width="0.0" font-weight="normal">eGFR</text>
<ellipse cx="614.70" cy="60.00" rx="13.3" ry="9.9" fill="#7d5548"/>
<text transform="translate(614.70,63.00) scale(0.8696,1)" font-size="9.08" text-anchor="middle" fill="#fff" stroke="#fff" stroke-width="0.0" font-weight="normal">Urate</text>
<ellipse cx="488.75" cy="81.00" rx="13.3" ry="9.9" fill="#f0dc68"/>
<text transform="translate(488.75,84.00) scale(0.8696,1)" font-size="9.08" text-anchor="middle" fill="#222" stroke="#222" stroke-width="0.0" font-weight="normal">MAP</text>
<ellipse cx="554.40" cy="78.75" rx="13.3" ry="9.9" fill="#f0dc68"/>
<text transform="translate(554.40,81.75) scale(0.8696,1)" font-size="9.08" text-anchor="middle" fill="#222" stroke="#222" stroke-width="0.0" font-weight="normal">SBP</text>
<ellipse cx="658.75" cy="82.90" rx="13.3" ry="9.9" fill="#dc88c8"/>
<text transform="translate(658.75,85.90) scale(0.8696,1)" font-size="9.08" text-anchor="middle" fill="#222" stroke="#222" stroke-width="0.0" font-weight="normal">Alb</text>
<ellipse cx="608.50" cy="109.10" rx="13.3" ry="9.9" fill="#dc88c8"/>
<text transform="translate(608.50,112.10) scale(0.8696,1)" font-size="9.08" text-anchor="middle" fill="#222" stroke="#222" stroke-width="0.0" font-weight="normal">TP</text>
<ellipse cx="491.10" cy="138.90" rx="13.3" ry="9.9" fill="#f0dc68"/>
<text transform="translate(491.10,141.90) scale(0.8696,1)" font-size="9.08" text-anchor="middle" fill="#222" stroke="#222" stroke-width="0.0" font-weight="normal">DBP</text>
<ellipse cx="556.60" cy="137.30" rx="13.3" ry="9.9" fill="#f0dc68"/>
<text transform="translate(556.60,140.30) scale(0.8696,1)" font-size="9.08" text-anchor="middle" fill="#222" stroke="#222" stroke-width="0.0" font-weight="normal">PP</text>
<ellipse cx="664.00" cy="135.10" rx="13.3" ry="9.9" fill="#5fb8cc"/>
<text transform="translate(664.00,138.10) scale(0.8696,1)" font-size="9.08" text-anchor="middle" fill="#222" stroke="#222" stroke-width="0.0" font-weight="normal">Ca</text>
<ellipse cx="522.30" cy="167.90" rx="13.3" ry="9.9" fill="#e3822e"/>
<text transform="translate(522.30,170.90) scale(0.8696,1)" font-size="9.08" text-anchor="middle" fill="#111" stroke="#111" stroke-width="0.0" font-weight="normal">TG</text>
<ellipse cx="482.80" cy="199.60" rx="13.3" ry="9.9" fill="#e3822e"/>
<text transform="translate(482.80,202.60) scale(0.8696,1)" font-size="9.08" text-anchor="middle" fill="#111" stroke="#111" stroke-width="0.0" font-weight="normal">HDL-C</text>
<ellipse cx="551.20" cy="202.90" rx="13.3" ry="9.9" fill="#e3822e"/>
<text transform="translate(551.20,205.90) scale(0.8696,1)" font-size="9.08" text-anchor="middle" fill="#111" stroke="#111" stroke-width="0.0" font-weight="normal">LDL-C</text>
<ellipse cx="662.90" cy="192.60" rx="13.3" ry="9.9" fill="#bf2a2e"/>
<text transform="translate(662.90,195.60) scale(0.8696,1)" font-size="9.08" text-anchor="middle" fill="#fff" stroke="#fff" stroke-width="0.0" font-weight="normal">AST</text>
<ellipse cx="512.30" cy="235.70" rx="13.3" ry="9.9" fill="#e3822e"/>
<text transform="translate(512.30,238.70) scale(0.8696,1)" font-size="9.08" text-anchor="middle" fill="#111" stroke="#111" stroke-width="0.0" font-weight="normal">TC</text>
<ellipse cx="626.60" cy="225.20" rx="13.3" ry="9.9" fill="#bf2a2e"/>
<text transform="translate(626.60,228.20) scale(0.8696,1)" font-size="9.08" text-anchor="middle" fill="#fff" stroke="#fff" stroke-width="0.0" font-weight="normal">ALT</text>
<text x="454.20" y="273.10" font-size="10.5" text-anchor="start" fill="#000" font-weight="bold" font-style="normal" >f</text>
<line x1="476.60" y1="279.10" x2="472.80" y2="334.10" stroke="#8a8a8a" stroke-width="0.8"/>
<line x1="476.60" y1="279.10" x2="525.30" y2="302.20" stroke="#666" stroke-width="0.8" stroke-dasharray="1.2,1.3"/>
<line x1="472.80" y1="334.10" x2="525.30" y2="302.20" stroke="#8a8a8a" stroke-width="2.2" stroke-dasharray="2.4,1.6"/>
<line x1="522.00" y1="361.00" x2="560.00" y2="349.60" stroke="#666" stroke-width="1.0" stroke-dasharray="1.2,1.2"/>
<line x1="570.30" y1="297.80" x2="624.60" y2="278.75" stroke="#8a8a8a" stroke-width="0.8"/>
<line x1="598.75" y1="327.90" x2="644.80" y2="376.50" stroke="#8a8a8a" stroke-width="0.9"/>
<line x1="572.50" y1="387.00" x2="644.80" y2="376.50" stroke="#8a8a8a" stroke-width="1.4"/>
<line x1="598.75" y1="327.90" x2="572.50" y2="387.00" stroke="#8a8a8a" stroke-width="0.8"/>
<line x1="593.75" y1="428.00" x2="668.00" y2="421.25" stroke="#8a8a8a" stroke-width="1.4"/>
<line x1="593.75" y1="428.00" x2="632.00" y2="461.25" stroke="#8a8a8a" stroke-width="1.2"/>
<line x1="668.00" y1="421.25" x2="632.00" y2="461.25" stroke="#8a8a8a" stroke-width="1.2"/>
<line x1="632.00" y1="461.25" x2="598.00" y2="497.00" stroke="#666" stroke-width="1.0" stroke-dasharray="2,1.6"/>
<line x1="632.00" y1="461.25" x2="672.00" y2="491.25" stroke="#666" stroke-width="1.0" stroke-dasharray="2,1.6"/>
<line x1="598.00" y1="497.00" x2="672.00" y2="491.25" stroke="#8a8a8a" stroke-width="1.6"/>
<line x1="485.00" y1="410.50" x2="466.40" y2="476.40" stroke="#8a8a8a" stroke-width="1.8"/>
<line x1="485.00" y1="410.50" x2="552.50" y2="431.25" stroke="#8a8a8a" stroke-width="1.8"/>
<line x1="485.00" y1="410.50" x2="535.00" y2="495.75" stroke="#8a8a8a" stroke-width="1.0"/>
<line x1="466.40" y1="476.40" x2="552.50" y2="431.25" stroke="#8a8a8a" stroke-width="1.8"/>
<line x1="466.40" y1="476.40" x2="535.00" y2="495.75" stroke="#8a8a8a" stroke-width="1.8"/>
<line x1="552.50" y1="431.25" x2="535.00" y2="495.75" stroke="#8a8a8a" stroke-width="2.0"/>
<line x1="522.00" y1="361.00" x2="485.00" y2="410.50" stroke="#8a8a8a" stroke-width="0.7"/>
<line x1="522.00" y1="361.00" x2="466.40" y2="476.40" stroke="#8a8a8a" stroke-width="0.7"/>
<line x1="522.00" y1="361.00" x2="552.50" y2="431.25" stroke="#8a8a8a" stroke-width="0.9"/>
<line x1="522.00" y1="361.00" x2="535.00" y2="495.75" stroke="#8a8a8a" stroke-width="0.9"/>
<line x1="522.00" y1="361.00" x2="572.50" y2="387.00" stroke="#8a8a8a" stroke-width="0.7"/>
<line x1="522.00" y1="361.00" x2="570.30" y2="297.80" stroke="#8a8a8a" stroke-width="0.6"/>
<line x1="522.00" y1="361.00" x2="525.30" y2="302.20" stroke="#8a8a8a" stroke-width="0.6"/>
<line x1="522.00" y1="361.00" x2="472.80" y2="334.10" stroke="#8a8a8a" stroke-width="0.6"/>
<line x1="572.50" y1="387.00" x2="485.00" y2="410.50" stroke="#8a8a8a" stroke-width="0.6"/>
<line x1="572.50" y1="387.00" x2="552.50" y2="431.25" stroke="#8a8a8a" stroke-width="0.8"/>
<line x1="572.50" y1="387.00" x2="466.40" y2="476.40" stroke="#8a8a8a" stroke-width="0.6"/>
<line x1="572.50" y1="387.00" x2="593.75" y2="428.00" stroke="#8a8a8a" stroke-width="0.6"/>
<line x1="525.30" y1="302.20" x2="560.00" y2="349.60" stroke="#8a8a8a" stroke-width="0.7"/>
<line x1="570.30" y1="297.80" x2="598.75" y2="327.90" stroke="#8a8a8a" stroke-width="0.6"/>
<line x1="570.30" y1="297.80" x2="560.00" y2="349.60" stroke="#8a8a8a" stroke-width="0.5"/>
<line x1="560.00" y1="349.60" x2="485.00" y2="410.50" stroke="#8a8a8a" stroke-width="0.5"/>
<path d="M476.60,279.10 Q452.75,305.08 472.80,334.10" fill="none" stroke="#8c564b" stroke-width="1.5"/>
<path d="M472.80,334.10 Q489.70,302.77 525.30,302.20" fill="none" stroke="#8c564b" stroke-width="1.6" stroke-dasharray="2.4,1.8"/>
<path d="M472.80,334.10 Q509.44,335.24 525.30,302.20" fill="none" stroke="#1f77b4" stroke-width="1.2" stroke-dasharray="1.3,1.3"/>
<path d="M522.00,361.00 Q533.53,330.40 560.00,349.60" fill="none" stroke="#1f77b4" stroke-width="1.3" stroke-dasharray="1.4,1.3"/>
<path d="M570.30,297.80 Q591.49,271.29 624.60,278.75" fill="none" stroke="#1f77b4" stroke-width="1.2"/>
<path d="M598.75,327.90 Q639.20,335.69 644.80,376.50" fill="none" stroke="#1f77b4" stroke-width="1.5"/>
<path d="M598.75,327.90 Q610.16,363.20 644.80,376.50" fill="none" stroke="#2ca02c" stroke-width="1.5"/>
<path d="M572.50,387.00 Q603.19,344.14 644.80,376.50" fill="none" stroke="#1f77b4" stroke-width="1.6"/>
<path d="M572.50,387.00 Q605.49,359.98 644.80,376.50" fill="none" stroke="#2ca02c" stroke-width="1.5"/>
<path d="M572.50,387.00 Q611.52,401.54 644.80,376.50" fill="none" stroke="#d62728" stroke-width="1.1"/>
<path d="M593.75,428.00 Q627.62,388.77 668.00,421.25" fill="none" stroke="#1f77b4" stroke-width="1.6"/>
<path d="M593.75,428.00 Q629.25,406.70 668.00,421.25" fill="none" stroke="#bcbd22" stroke-width="1.6"/>
<path d="M593.75,428.00 Q632.50,442.55 668.00,421.25" fill="none" stroke="#ff7f0e" stroke-width="1.7"/>
<path d="M593.75,428.00 Q633.95,458.49 668.00,421.25" fill="none" stroke="#8c564b" stroke-width="1.5"/>
<path d="M593.75,428.00 Q622.06,434.06 632.00,461.25" fill="none" stroke="#1f77b4" stroke-width="1.3"/>
<path d="M668.00,421.25 Q666.35,455.97 632.00,461.25" fill="none" stroke="#1f77b4" stroke-width="1.5"/>
<path d="M668.00,421.25 Q641.08,433.22 632.00,461.25" fill="none" stroke="#8c564b" stroke-width="1.3"/>
<path d="M593.75,428.00 Q605.00,453.68 632.00,461.25" fill="none" stroke="#8c564b" stroke-width="1.0"/>
<path d="M598.00,497.00 Q635.93,506.09 672.00,491.25" fill="none" stroke="#8c564b" stroke-width="1.3"/>
<path d="M485.00,410.50 Q494.95,448.88 466.40,476.40" fill="none" stroke="#1f77b4" stroke-width="1.6"/>
<path d="M466.40,476.40 Q501.09,437.88 552.50,431.25" fill="none" stroke="#1f77b4" stroke-width="1.6"/>
<path d="M466.40,476.40 Q516.88,467.99 552.50,431.25" fill="none" stroke="#bcbd22" stroke-width="1.6"/>
<path d="M466.40,476.40 Q527.10,487.48 552.50,431.25" fill="none" stroke="#8c564b" stroke-width="1.0"/>
<path d="M466.40,476.40 Q493.64,511.10 535.00,495.75" fill="none" stroke="#8c564b" stroke-width="0.9"/>
<path d="M552.50,431.25 Q495.49,450.41 535.00,495.75" fill="none" stroke="#1f77b4" stroke-width="1.7"/>
<path d="M552.50,431.25 Q510.94,454.60 535.00,495.75" fill="none" stroke="#2ca02c" stroke-width="1.7"/>
<path d="M552.50,431.25 Q526.38,458.79 535.00,495.75" fill="none" stroke="#e377c2" stroke-width="1.0"/>
<path d="M552.50,431.25 Q561.12,468.21 535.00,495.75" fill="none" stroke="#bcbd22" stroke-width="1.1"/>
<path d="M552.50,431.25 Q582.35,473.97 535.00,495.75" fill="none" stroke="#d62728" stroke-width="1.7"/>
<path d="M552.50,431.25 Q599.73,478.69 535.00,495.75" fill="none" stroke="#8c564b" stroke-width="1.1"/>
<ellipse cx="476.60" cy="279.10" rx="13.3" ry="9.9" fill="#7d5548"/>
<text transform="translate(476.60,282.10) scale(0.8696,1)" font-size="9.08" text-anchor="middle" fill="#fff" stroke="#fff" stroke-width="0.0" font-weight="normal">BUN</text>
<ellipse cx="525.30" cy="302.20" rx="13.3" ry="9.9" fill="#7d5548"/>
<text transform="translate(525.30,305.20) scale(0.8696,1)" font-size="9.08" text-anchor="middle" fill="#fff" stroke="#fff" stroke-width="0.0" font-weight="normal">eGFR</text>
<ellipse cx="472.80" cy="334.10" rx="13.3" ry="9.9" fill="#7d5548"/>
<text transform="translate(472.80,337.10) scale(0.8696,1)" font-size="9.08" text-anchor="middle" fill="#fff" stroke="#fff" stroke-width="0.0" font-weight="normal">sCr</text>
<ellipse cx="570.30" cy="297.80" rx="13.3" ry="9.9" fill="#5aa846"/>
<text transform="translate(570.30,300.80) scale(0.8696,1)" font-size="9.08" text-anchor="middle" fill="#fff" stroke="#fff" stroke-width="0.0" font-weight="normal">WBC</text>
<ellipse cx="624.60" cy="278.75" rx="13.3" ry="9.9" fill="#5aa846"/>
<text transform="translate(624.60,281.75) scale(0.8696,1)" font-size="9.08" text-anchor="middle" fill="#fff" stroke="#fff" stroke-width="0.0" font-weight="normal">Plt</text>
<ellipse cx="560.00" cy="349.60" rx="13.3" ry="9.9" fill="#e3822e"/>
<text transform="translate(560.00,352.60) scale(0.8696,1)" font-size="9.08" text-anchor="middle" fill="#111" stroke="#111" stroke-width="0.0" font-weight="normal">HDL-C</text>
<ellipse cx="522.00" cy="361.00" rx="13.3" ry="9.9" fill="#8e63c0"/>
<text transform="translate(522.00,364.00) scale(0.8696,1)" font-size="9.08" text-anchor="middle" fill="#fff" stroke="#fff" stroke-width="0.0" font-weight="normal">BMI</text>
<ellipse cx="598.75" cy="327.90" rx="13.3" ry="9.9" fill="#bf2a2e"/>
<text transform="translate(598.75,330.90) scale(0.8696,1)" font-size="9.08" text-anchor="middle" fill="#fff" stroke="#fff" stroke-width="0.0" font-weight="normal">GGT</text>
<ellipse cx="572.50" cy="387.00" rx="13.3" ry="9.9" fill="#bf2a2e"/>
<text transform="translate(572.50,390.00) scale(0.8696,1)" font-size="9.08" text-anchor="middle" fill="#fff" stroke="#fff" stroke-width="0.0" font-weight="normal">ALT</text>
<ellipse cx="644.80" cy="376.50" rx="13.3" ry="9.9" fill="#bf2a2e"/>
<text transform="translate(644.80,379.50) scale(0.8696,1)" font-size="9.08" text-anchor="middle" fill="#fff" stroke="#fff" stroke-width="0.0" font-weight="normal">AST</text>
<ellipse cx="485.00" cy="410.50" rx="13.3" ry="9.9" fill="#f0dc68"/>
<text transform="translate(485.00,413.50) scale(0.8696,1)" font-size="9.08" text-anchor="middle" fill="#222" stroke="#222" stroke-width="0.0" font-weight="normal">PP</text>
<ellipse cx="552.50" cy="431.25" rx="13.3" ry="9.9" fill="#f0dc68"/>
<text transform="translate(552.50,434.25) scale(0.8696,1)" font-size="9.08" text-anchor="middle" fill="#222" stroke="#222" stroke-width="0.0" font-weight="normal">MAP</text>
<ellipse cx="593.75" cy="428.00" rx="13.3" ry="9.9" fill="#5aa846"/>
<text transform="translate(593.75,431.00) scale(0.8696,1)" font-size="9.08" text-anchor="middle" fill="#fff" stroke="#fff" stroke-width="0.0" font-weight="normal">Hb</text>
<ellipse cx="668.00" cy="421.25" rx="13.3" ry="9.9" fill="#5aa846"/>
<text transform="translate(668.00,424.25) scale(0.8696,1)" font-size="9.08" text-anchor="middle" fill="#fff" stroke="#fff" stroke-width="0.0" font-weight="normal">Ht</text>
<ellipse cx="632.00" cy="461.25" rx="13.3" ry="9.9" fill="#5aa846"/>
<text transform="translate(632.00,464.25) scale(0.8696,1)" font-size="9.08" text-anchor="middle" fill="#fff" stroke="#fff" stroke-width="0.0" font-weight="normal">RBC</text>
<ellipse cx="466.40" cy="476.40" rx="13.3" ry="9.9" fill="#f0dc68"/>
<text transform="translate(466.40,479.40) scale(0.8696,1)" font-size="9.08" text-anchor="middle" fill="#222" stroke="#222" stroke-width="0.0" font-weight="normal">SBP</text>
<ellipse cx="535.00" cy="495.75" rx="13.3" ry="9.9" fill="#f0dc68"/>
<text transform="translate(535.00,498.75) scale(0.8696,1)" font-size="9.08" text-anchor="middle" fill="#222" stroke="#222" stroke-width="0.0" font-weight="normal">DBP</text>
<ellipse cx="598.00" cy="497.00" rx="13.3" ry="9.9" fill="#5aa846"/>
<text transform="translate(598.00,500.00) scale(0.8696,1)" font-size="9.08" text-anchor="middle" fill="#fff" stroke="#fff" stroke-width="0.0" font-weight="normal">MCH</text>
<ellipse cx="672.00" cy="491.25" rx="13.3" ry="9.9" fill="#5aa846"/>
<text transform="translate(672.00,494.25) scale(0.8696,1)" font-size="9.08" text-anchor="middle" fill="#fff" stroke="#fff" stroke-width="0.0" font-weight="normal">MCV</text>
<rect x="457.00" y="525.30" width="6.10" height="9.60" fill="#7f7f7f"/>
<text transform="translate(466.60,533.10) scale(0.8696,1)" font-size="9.08" text-anchor="start" fill="#222" stroke="#222" stroke-width="0.14" font-weight="normal">(Marginal effect)</text>
<rect x="457.00" y="538.80" width="6.10" height="9.60" fill="#8c564b"/>
<text transform="translate(466.60,546.60) scale(0.8696,1)" font-size="9.08" text-anchor="start" fill="#222" stroke="#222" stroke-width="0.14" font-weight="normal">Age</text>
<rect x="457.00" y="552.30" width="6.10" height="9.60" fill="#1f77b4"/>
<text transform="translate(466.60,560.10) scale(0.8696,1)" font-size="9.08" text-anchor="start" fill="#222" stroke="#222" stroke-width="0.14" font-weight="normal">Sex</text>
<rect x="457.00" y="565.80" width="6.10" height="9.60" fill="#ff7f0e"/>
<text transform="translate(466.60,573.60) scale(0.8696,1)" font-size="9.08" text-anchor="start" fill="#222" stroke="#222" stroke-width="0.14" font-weight="normal">Ever-drinking</text>
<rect x="457.00" y="579.30" width="6.10" height="9.60" fill="#d62728"/>
<text transform="translate(466.60,587.10) scale(0.8696,1)" font-size="9.08" text-anchor="start" fill="#222" stroke="#222" stroke-width="0.14" font-weight="normal">Ever-smoking</text>
<rect x="457.00" y="592.80" width="6.10" height="9.60" fill="#2ca02c"/>
<text transform="translate(466.60,600.60) scale(0.8696,1)" font-size="9.08" text-anchor="start" fill="#222" stroke="#222" stroke-width="0.14" font-weight="normal">Current-smoking</text>
<rect x="560.70" y="538.90" width="6.30" height="9.60" fill="#9467bd"/>
<text transform="translate(570.60,546.70) scale(0.8696,1)" font-size="9.08" text-anchor="start" fill="#222" stroke="#222" stroke-width="0.14" font-weight="normal">Physical activity</text>
<rect x="560.70" y="552.40" width="6.30" height="9.60" fill="#17becf"/>
<text transform="translate(570.60,560.20) scale(0.8696,1)" font-size="9.08" text-anchor="start" fill="#222" stroke="#222" stroke-width="0.14" font-weight="normal">Meat and cheese (UKB)</text>
<rect x="560.70" y="565.90" width="6.30" height="9.60" fill="#8fd13f"/>
<text transform="translate(570.60,573.70) scale(0.8696,1)" font-size="9.08" text-anchor="start" fill="#222" stroke="#222" stroke-width="0.14" font-weight="normal">Vegetable and fish (UKB)</text>
<rect x="560.70" y="579.40" width="6.30" height="9.60" fill="#bcbd22"/>
<text transform="translate(570.60,587.20) scale(0.8696,1)" font-size="9.08" text-anchor="start" fill="#222" stroke="#222" stroke-width="0.14" font-weight="normal">European cuisine (BBJ)</text>
<rect x="560.70" y="592.90" width="6.30" height="9.60" fill="#e377c2"/>
<text transform="translate(570.60,600.70) scale(0.8696,1)" font-size="9.08" text-anchor="start" fill="#222" stroke="#222" stroke-width="0.14" font-weight="normal">Dairy products (BBJ)</text>
<text transform="translate(458.80,617.80) scale(0.8696,1)" font-size="8.85" text-anchor="start" fill="#222" stroke="#222" stroke-width="0.14" font-weight="normal">|<tspan font-style="italic">R</tspan><tspan font-size="6.44" dy="2.07">g</tspan><tspan dy="-2.07">|</tspan></text>
<text transform="translate(462.50,636.30) scale(0.8696,1)" font-size="8.85" text-anchor="start" fill="#222" stroke="#222" stroke-width="0.14" font-weight="normal"><tspan font-style="italic">R</tspan><tspan font-size="6.44" dy="2.07">g</tspan></text>
<line x1="479.40" y1="615.40" x2="509.40" y2="615.40" stroke="#8a8a8a" stroke-width="0.7" />
<text transform="translate(513.10,617.80) scale(0.8696,1)" font-size="8.85" text-anchor="start" fill="#222" stroke="#222" stroke-width="0.14" font-weight="normal">0.1</text>
<line x1="546.00" y1="615.20" x2="576.20" y2="615.20" stroke="#444" stroke-width="1.4" />
<text transform="translate(580.40,617.80) scale(0.8696,1)" font-size="8.85" text-anchor="start" fill="#222" stroke="#222" stroke-width="0.14" font-weight="normal">0.5</text>
<line x1="614.70" y1="615.20" x2="644.90" y2="615.20" stroke="#111" stroke-width="2.5" />
<text transform="translate(649.00,617.80) scale(0.8696,1)" font-size="8.85" text-anchor="start" fill="#222" stroke="#222" stroke-width="0.14" font-weight="normal">1.0</text>
<line x1="479.40" y1="634.70" x2="509.40" y2="634.70" stroke="#333" stroke-width="1.3" />
<text transform="translate(513.10,636.80) scale(0.8696,1)" font-size="8.85" text-anchor="start" fill="#222" stroke="#222" stroke-width="0.14" font-weight="normal">&gt; 0</text>
<line x1="546.00" y1="634.50" x2="576.20" y2="634.50" stroke="#333" stroke-width="0.9" stroke-dasharray="1.2,1.3"/>
<text transform="translate(580.40,636.80) scale(0.8696,1)" font-size="8.85" text-anchor="start" fill="#222" stroke="#222" stroke-width="0.14" font-weight="normal">&lt; 0</text>
</g>
</svg>
</body></html>
